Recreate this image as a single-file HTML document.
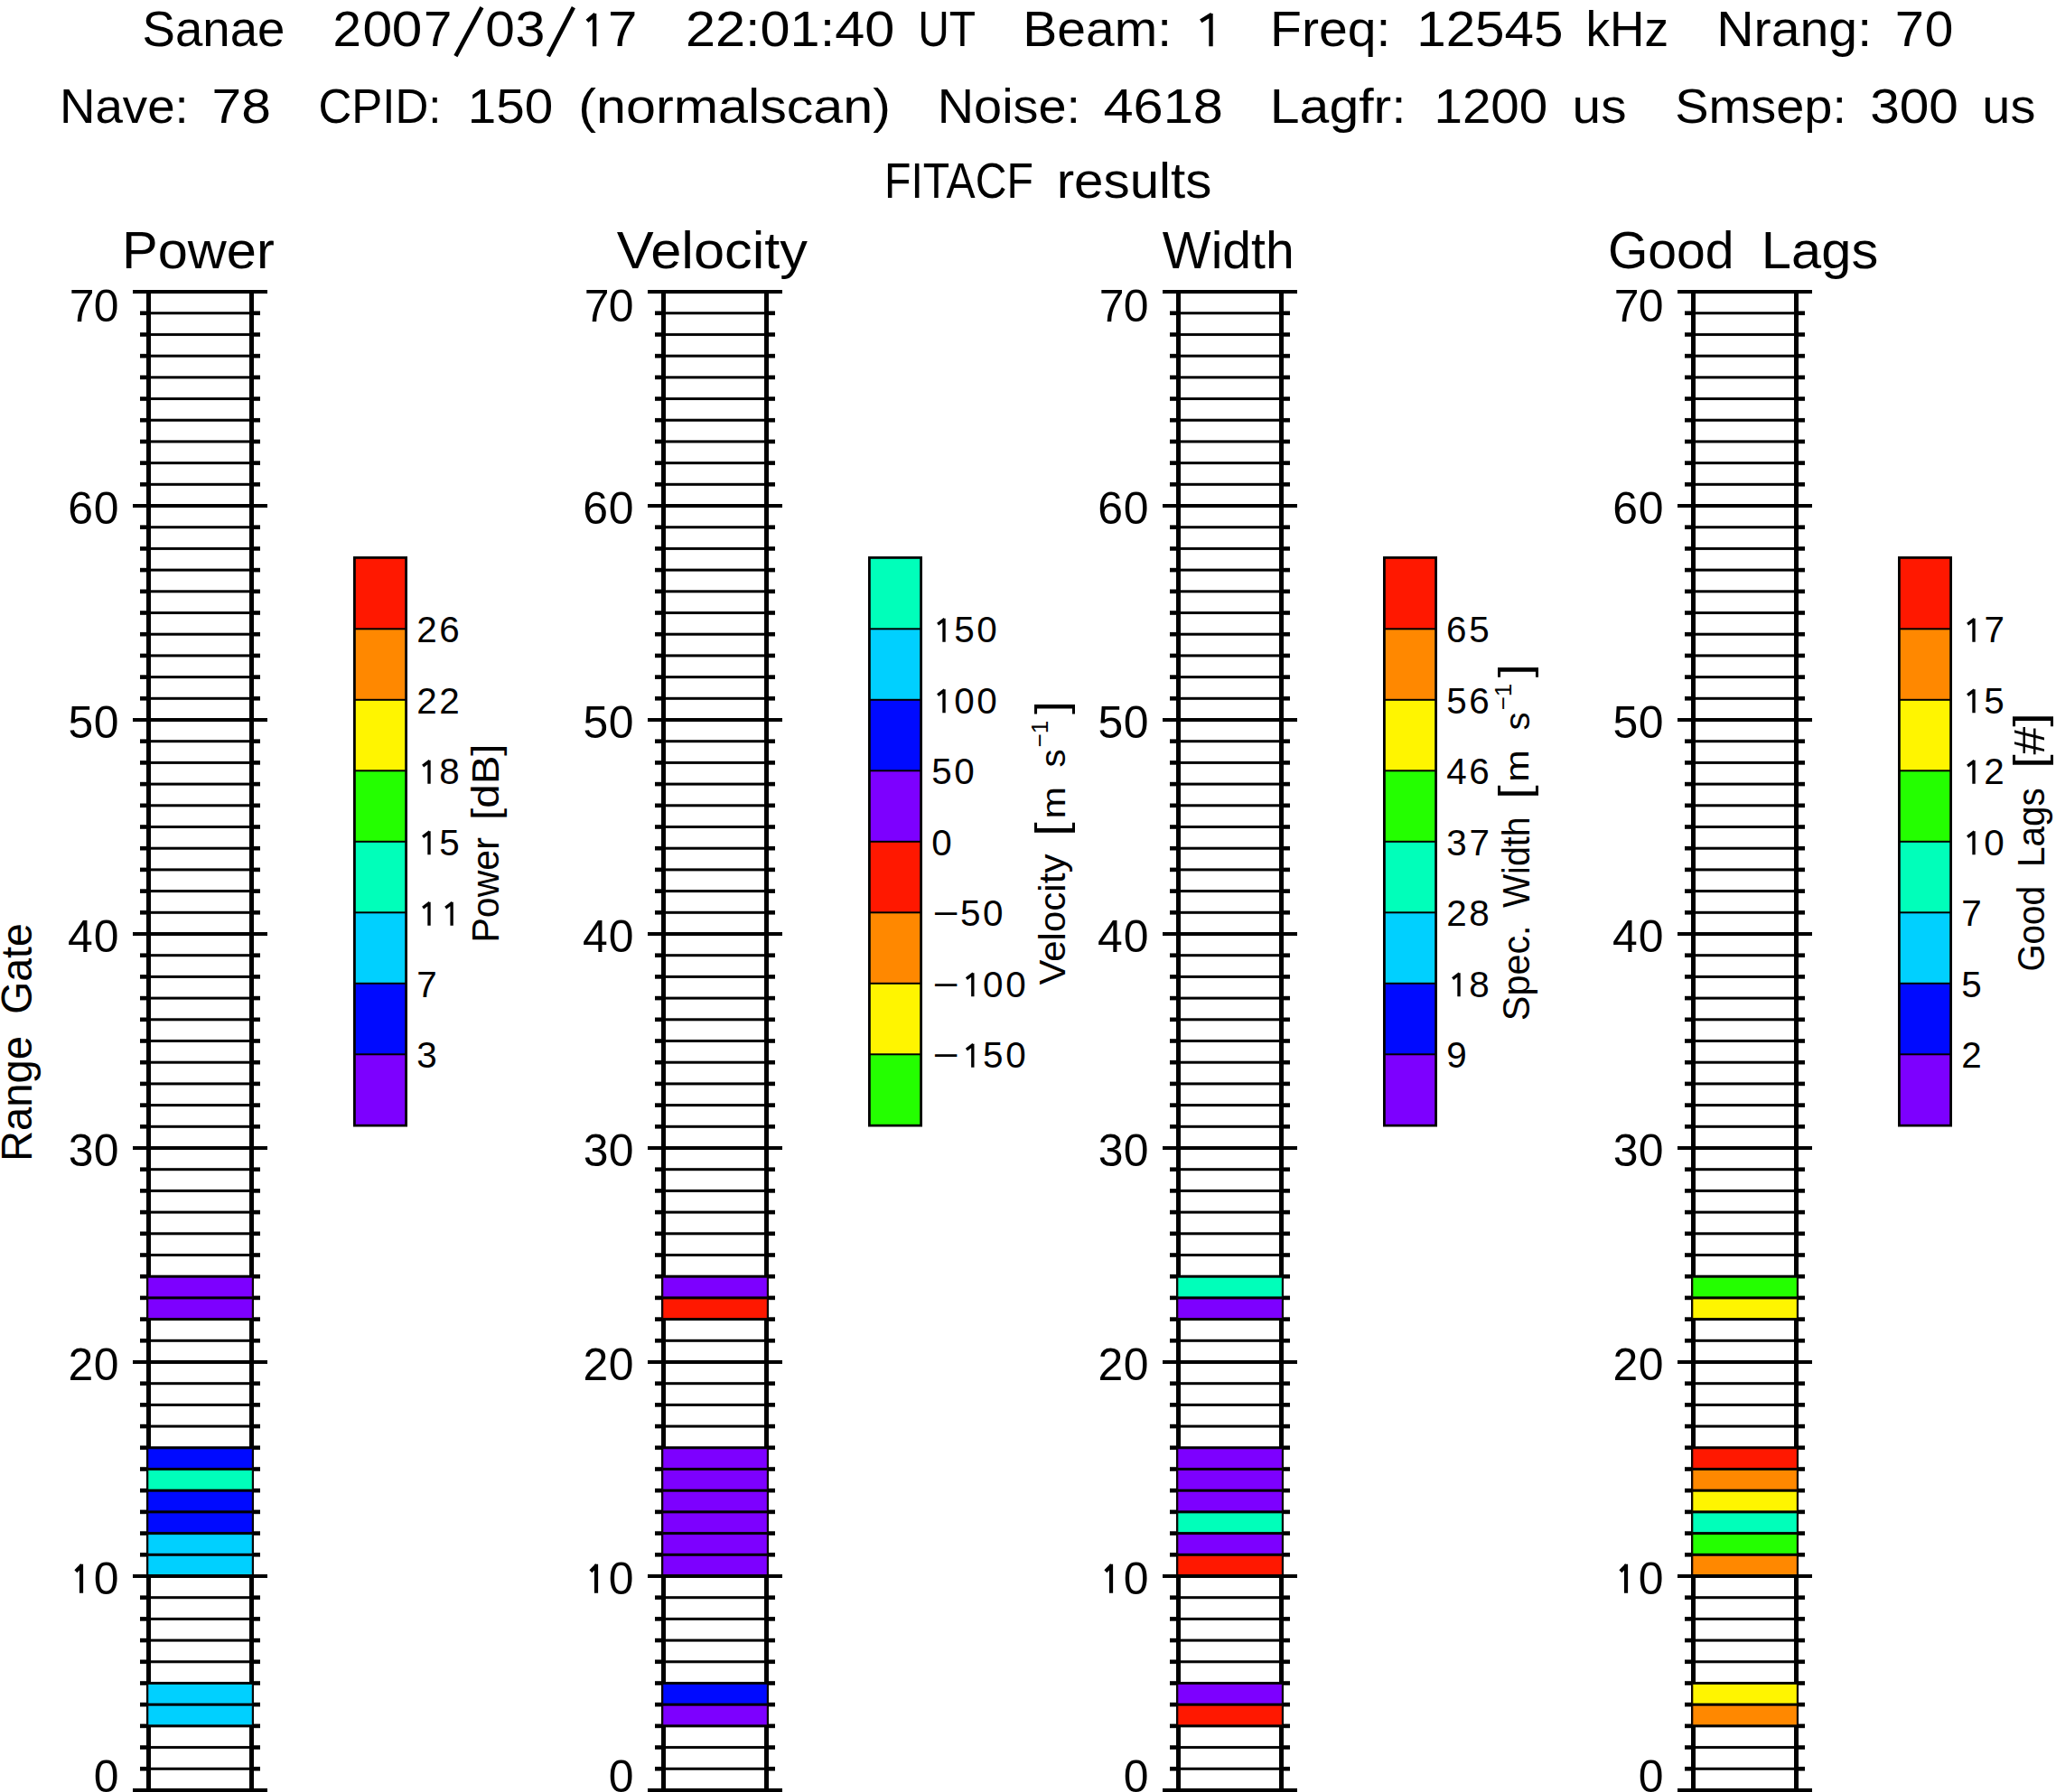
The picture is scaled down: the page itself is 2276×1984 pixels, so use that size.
<!DOCTYPE html>
<html><head><meta charset="utf-8"><style>
html,body{margin:0;padding:0;background:#fff;overflow:hidden;width:2276px;height:1984px;}
svg{display:block;}
text{font-family:"Liberation Sans",sans-serif;fill:#000;}
</style></head><body>
<svg width="2276" height="1984" viewBox="0 0 2276 1984">
<rect width="2276" height="1984" fill="#fff"/>
<rect x="162.00" y="321.00" width="5.00" height="1663.00" fill="#000"/>
<rect x="276.00" y="321.00" width="5.00" height="1663.00" fill="#000"/>
<rect x="155.00" y="1956.00" width="12.00" height="4.60" fill="#000"/>
<rect x="276.00" y="1956.00" width="12.00" height="4.60" fill="#000"/>
<rect x="155.00" y="1932.30" width="12.00" height="4.60" fill="#000"/>
<rect x="276.00" y="1932.30" width="12.00" height="4.60" fill="#000"/>
<rect x="155.00" y="1908.60" width="12.00" height="4.60" fill="#000"/>
<rect x="276.00" y="1908.60" width="12.00" height="4.60" fill="#000"/>
<rect x="155.00" y="1884.90" width="12.00" height="4.60" fill="#000"/>
<rect x="276.00" y="1884.90" width="12.00" height="4.60" fill="#000"/>
<rect x="155.00" y="1861.20" width="12.00" height="4.60" fill="#000"/>
<rect x="276.00" y="1861.20" width="12.00" height="4.60" fill="#000"/>
<rect x="155.00" y="1837.50" width="12.00" height="4.60" fill="#000"/>
<rect x="276.00" y="1837.50" width="12.00" height="4.60" fill="#000"/>
<rect x="155.00" y="1813.80" width="12.00" height="4.60" fill="#000"/>
<rect x="276.00" y="1813.80" width="12.00" height="4.60" fill="#000"/>
<rect x="155.00" y="1790.10" width="12.00" height="4.60" fill="#000"/>
<rect x="276.00" y="1790.10" width="12.00" height="4.60" fill="#000"/>
<rect x="155.00" y="1766.40" width="12.00" height="4.60" fill="#000"/>
<rect x="276.00" y="1766.40" width="12.00" height="4.60" fill="#000"/>
<rect x="155.00" y="1719.00" width="12.00" height="4.60" fill="#000"/>
<rect x="276.00" y="1719.00" width="12.00" height="4.60" fill="#000"/>
<rect x="155.00" y="1695.30" width="12.00" height="4.60" fill="#000"/>
<rect x="276.00" y="1695.30" width="12.00" height="4.60" fill="#000"/>
<rect x="155.00" y="1671.60" width="12.00" height="4.60" fill="#000"/>
<rect x="276.00" y="1671.60" width="12.00" height="4.60" fill="#000"/>
<rect x="155.00" y="1647.90" width="12.00" height="4.60" fill="#000"/>
<rect x="276.00" y="1647.90" width="12.00" height="4.60" fill="#000"/>
<rect x="155.00" y="1624.20" width="12.00" height="4.60" fill="#000"/>
<rect x="276.00" y="1624.20" width="12.00" height="4.60" fill="#000"/>
<rect x="155.00" y="1600.50" width="12.00" height="4.60" fill="#000"/>
<rect x="276.00" y="1600.50" width="12.00" height="4.60" fill="#000"/>
<rect x="155.00" y="1576.80" width="12.00" height="4.60" fill="#000"/>
<rect x="276.00" y="1576.80" width="12.00" height="4.60" fill="#000"/>
<rect x="155.00" y="1553.10" width="12.00" height="4.60" fill="#000"/>
<rect x="276.00" y="1553.10" width="12.00" height="4.60" fill="#000"/>
<rect x="155.00" y="1529.40" width="12.00" height="4.60" fill="#000"/>
<rect x="276.00" y="1529.40" width="12.00" height="4.60" fill="#000"/>
<rect x="155.00" y="1482.00" width="12.00" height="4.60" fill="#000"/>
<rect x="276.00" y="1482.00" width="12.00" height="4.60" fill="#000"/>
<rect x="155.00" y="1458.30" width="12.00" height="4.60" fill="#000"/>
<rect x="276.00" y="1458.30" width="12.00" height="4.60" fill="#000"/>
<rect x="155.00" y="1434.60" width="12.00" height="4.60" fill="#000"/>
<rect x="276.00" y="1434.60" width="12.00" height="4.60" fill="#000"/>
<rect x="155.00" y="1410.90" width="12.00" height="4.60" fill="#000"/>
<rect x="276.00" y="1410.90" width="12.00" height="4.60" fill="#000"/>
<rect x="155.00" y="1387.20" width="12.00" height="4.60" fill="#000"/>
<rect x="276.00" y="1387.20" width="12.00" height="4.60" fill="#000"/>
<rect x="155.00" y="1363.50" width="12.00" height="4.60" fill="#000"/>
<rect x="276.00" y="1363.50" width="12.00" height="4.60" fill="#000"/>
<rect x="155.00" y="1339.80" width="12.00" height="4.60" fill="#000"/>
<rect x="276.00" y="1339.80" width="12.00" height="4.60" fill="#000"/>
<rect x="155.00" y="1316.10" width="12.00" height="4.60" fill="#000"/>
<rect x="276.00" y="1316.10" width="12.00" height="4.60" fill="#000"/>
<rect x="155.00" y="1292.40" width="12.00" height="4.60" fill="#000"/>
<rect x="276.00" y="1292.40" width="12.00" height="4.60" fill="#000"/>
<rect x="155.00" y="1245.00" width="12.00" height="4.60" fill="#000"/>
<rect x="276.00" y="1245.00" width="12.00" height="4.60" fill="#000"/>
<rect x="155.00" y="1221.30" width="12.00" height="4.60" fill="#000"/>
<rect x="276.00" y="1221.30" width="12.00" height="4.60" fill="#000"/>
<rect x="155.00" y="1197.60" width="12.00" height="4.60" fill="#000"/>
<rect x="276.00" y="1197.60" width="12.00" height="4.60" fill="#000"/>
<rect x="155.00" y="1173.90" width="12.00" height="4.60" fill="#000"/>
<rect x="276.00" y="1173.90" width="12.00" height="4.60" fill="#000"/>
<rect x="155.00" y="1150.20" width="12.00" height="4.60" fill="#000"/>
<rect x="276.00" y="1150.20" width="12.00" height="4.60" fill="#000"/>
<rect x="155.00" y="1126.50" width="12.00" height="4.60" fill="#000"/>
<rect x="276.00" y="1126.50" width="12.00" height="4.60" fill="#000"/>
<rect x="155.00" y="1102.80" width="12.00" height="4.60" fill="#000"/>
<rect x="276.00" y="1102.80" width="12.00" height="4.60" fill="#000"/>
<rect x="155.00" y="1079.10" width="12.00" height="4.60" fill="#000"/>
<rect x="276.00" y="1079.10" width="12.00" height="4.60" fill="#000"/>
<rect x="155.00" y="1055.40" width="12.00" height="4.60" fill="#000"/>
<rect x="276.00" y="1055.40" width="12.00" height="4.60" fill="#000"/>
<rect x="155.00" y="1008.00" width="12.00" height="4.60" fill="#000"/>
<rect x="276.00" y="1008.00" width="12.00" height="4.60" fill="#000"/>
<rect x="155.00" y="984.30" width="12.00" height="4.60" fill="#000"/>
<rect x="276.00" y="984.30" width="12.00" height="4.60" fill="#000"/>
<rect x="155.00" y="960.60" width="12.00" height="4.60" fill="#000"/>
<rect x="276.00" y="960.60" width="12.00" height="4.60" fill="#000"/>
<rect x="155.00" y="936.90" width="12.00" height="4.60" fill="#000"/>
<rect x="276.00" y="936.90" width="12.00" height="4.60" fill="#000"/>
<rect x="155.00" y="913.20" width="12.00" height="4.60" fill="#000"/>
<rect x="276.00" y="913.20" width="12.00" height="4.60" fill="#000"/>
<rect x="155.00" y="889.50" width="12.00" height="4.60" fill="#000"/>
<rect x="276.00" y="889.50" width="12.00" height="4.60" fill="#000"/>
<rect x="155.00" y="865.80" width="12.00" height="4.60" fill="#000"/>
<rect x="276.00" y="865.80" width="12.00" height="4.60" fill="#000"/>
<rect x="155.00" y="842.10" width="12.00" height="4.60" fill="#000"/>
<rect x="276.00" y="842.10" width="12.00" height="4.60" fill="#000"/>
<rect x="155.00" y="818.40" width="12.00" height="4.60" fill="#000"/>
<rect x="276.00" y="818.40" width="12.00" height="4.60" fill="#000"/>
<rect x="155.00" y="771.00" width="12.00" height="4.60" fill="#000"/>
<rect x="276.00" y="771.00" width="12.00" height="4.60" fill="#000"/>
<rect x="155.00" y="747.30" width="12.00" height="4.60" fill="#000"/>
<rect x="276.00" y="747.30" width="12.00" height="4.60" fill="#000"/>
<rect x="155.00" y="723.60" width="12.00" height="4.60" fill="#000"/>
<rect x="276.00" y="723.60" width="12.00" height="4.60" fill="#000"/>
<rect x="155.00" y="699.90" width="12.00" height="4.60" fill="#000"/>
<rect x="276.00" y="699.90" width="12.00" height="4.60" fill="#000"/>
<rect x="155.00" y="676.20" width="12.00" height="4.60" fill="#000"/>
<rect x="276.00" y="676.20" width="12.00" height="4.60" fill="#000"/>
<rect x="155.00" y="652.50" width="12.00" height="4.60" fill="#000"/>
<rect x="276.00" y="652.50" width="12.00" height="4.60" fill="#000"/>
<rect x="155.00" y="628.80" width="12.00" height="4.60" fill="#000"/>
<rect x="276.00" y="628.80" width="12.00" height="4.60" fill="#000"/>
<rect x="155.00" y="605.10" width="12.00" height="4.60" fill="#000"/>
<rect x="276.00" y="605.10" width="12.00" height="4.60" fill="#000"/>
<rect x="155.00" y="581.40" width="12.00" height="4.60" fill="#000"/>
<rect x="276.00" y="581.40" width="12.00" height="4.60" fill="#000"/>
<rect x="155.00" y="534.00" width="12.00" height="4.60" fill="#000"/>
<rect x="276.00" y="534.00" width="12.00" height="4.60" fill="#000"/>
<rect x="155.00" y="510.30" width="12.00" height="4.60" fill="#000"/>
<rect x="276.00" y="510.30" width="12.00" height="4.60" fill="#000"/>
<rect x="155.00" y="486.60" width="12.00" height="4.60" fill="#000"/>
<rect x="276.00" y="486.60" width="12.00" height="4.60" fill="#000"/>
<rect x="155.00" y="462.90" width="12.00" height="4.60" fill="#000"/>
<rect x="276.00" y="462.90" width="12.00" height="4.60" fill="#000"/>
<rect x="155.00" y="439.20" width="12.00" height="4.60" fill="#000"/>
<rect x="276.00" y="439.20" width="12.00" height="4.60" fill="#000"/>
<rect x="155.00" y="415.50" width="12.00" height="4.60" fill="#000"/>
<rect x="276.00" y="415.50" width="12.00" height="4.60" fill="#000"/>
<rect x="155.00" y="391.80" width="12.00" height="4.60" fill="#000"/>
<rect x="276.00" y="391.80" width="12.00" height="4.60" fill="#000"/>
<rect x="155.00" y="368.10" width="12.00" height="4.60" fill="#000"/>
<rect x="276.00" y="368.10" width="12.00" height="4.60" fill="#000"/>
<rect x="155.00" y="344.40" width="12.00" height="4.60" fill="#000"/>
<rect x="276.00" y="344.40" width="12.00" height="4.60" fill="#000"/>
<rect x="163.80" y="1413.20" width="115.5" height="23.70" fill="#7d00ff" stroke="#100" stroke-width="1"/>
<rect x="163.80" y="1436.90" width="115.5" height="23.70" fill="#7d00ff" stroke="#100" stroke-width="1"/>
<rect x="163.80" y="1602.80" width="115.5" height="23.70" fill="#000aff" stroke="#100" stroke-width="1"/>
<rect x="163.80" y="1626.50" width="115.5" height="23.70" fill="#00ffba" stroke="#100" stroke-width="1"/>
<rect x="163.80" y="1650.20" width="115.5" height="23.70" fill="#000aff" stroke="#100" stroke-width="1"/>
<rect x="163.80" y="1673.90" width="115.5" height="23.70" fill="#000aff" stroke="#100" stroke-width="1"/>
<rect x="163.80" y="1697.60" width="115.5" height="23.70" fill="#00d0ff" stroke="#100" stroke-width="1"/>
<rect x="163.80" y="1721.30" width="115.5" height="23.70" fill="#00d0ff" stroke="#100" stroke-width="1"/>
<rect x="163.80" y="1863.50" width="115.5" height="23.70" fill="#00d0ff" stroke="#100" stroke-width="1"/>
<rect x="163.80" y="1887.20" width="115.5" height="23.70" fill="#00d0ff" stroke="#100" stroke-width="1"/>
<rect x="147.00" y="1980.00" width="149.00" height="4.00" fill="#000"/>
<rect x="163.80" y="1956.80" width="115.50" height="3.00" fill="#000"/>
<rect x="163.80" y="1933.10" width="115.50" height="3.00" fill="#000"/>
<rect x="163.80" y="1909.40" width="115.50" height="3.00" fill="#000"/>
<rect x="163.80" y="1885.70" width="115.50" height="3.00" fill="#000"/>
<rect x="163.80" y="1862.00" width="115.50" height="3.00" fill="#000"/>
<rect x="163.80" y="1838.30" width="115.50" height="3.00" fill="#000"/>
<rect x="163.80" y="1814.60" width="115.50" height="3.00" fill="#000"/>
<rect x="163.80" y="1790.90" width="115.50" height="3.00" fill="#000"/>
<rect x="163.80" y="1767.20" width="115.50" height="3.00" fill="#000"/>
<rect x="147.00" y="1743.00" width="149.00" height="4.00" fill="#000"/>
<rect x="163.80" y="1719.80" width="115.50" height="3.00" fill="#000"/>
<rect x="163.80" y="1696.10" width="115.50" height="3.00" fill="#000"/>
<rect x="163.80" y="1672.40" width="115.50" height="3.00" fill="#000"/>
<rect x="163.80" y="1648.70" width="115.50" height="3.00" fill="#000"/>
<rect x="163.80" y="1625.00" width="115.50" height="3.00" fill="#000"/>
<rect x="163.80" y="1601.30" width="115.50" height="3.00" fill="#000"/>
<rect x="163.80" y="1577.60" width="115.50" height="3.00" fill="#000"/>
<rect x="163.80" y="1553.90" width="115.50" height="3.00" fill="#000"/>
<rect x="163.80" y="1530.20" width="115.50" height="3.00" fill="#000"/>
<rect x="147.00" y="1506.00" width="149.00" height="4.00" fill="#000"/>
<rect x="163.80" y="1482.80" width="115.50" height="3.00" fill="#000"/>
<rect x="163.80" y="1459.10" width="115.50" height="3.00" fill="#000"/>
<rect x="163.80" y="1435.40" width="115.50" height="3.00" fill="#000"/>
<rect x="163.80" y="1411.70" width="115.50" height="3.00" fill="#000"/>
<rect x="163.80" y="1388.00" width="115.50" height="3.00" fill="#000"/>
<rect x="163.80" y="1364.30" width="115.50" height="3.00" fill="#000"/>
<rect x="163.80" y="1340.60" width="115.50" height="3.00" fill="#000"/>
<rect x="163.80" y="1316.90" width="115.50" height="3.00" fill="#000"/>
<rect x="163.80" y="1293.20" width="115.50" height="3.00" fill="#000"/>
<rect x="147.00" y="1269.00" width="149.00" height="4.00" fill="#000"/>
<rect x="163.80" y="1245.80" width="115.50" height="3.00" fill="#000"/>
<rect x="163.80" y="1222.10" width="115.50" height="3.00" fill="#000"/>
<rect x="163.80" y="1198.40" width="115.50" height="3.00" fill="#000"/>
<rect x="163.80" y="1174.70" width="115.50" height="3.00" fill="#000"/>
<rect x="163.80" y="1151.00" width="115.50" height="3.00" fill="#000"/>
<rect x="163.80" y="1127.30" width="115.50" height="3.00" fill="#000"/>
<rect x="163.80" y="1103.60" width="115.50" height="3.00" fill="#000"/>
<rect x="163.80" y="1079.90" width="115.50" height="3.00" fill="#000"/>
<rect x="163.80" y="1056.20" width="115.50" height="3.00" fill="#000"/>
<rect x="147.00" y="1032.00" width="149.00" height="4.00" fill="#000"/>
<rect x="163.80" y="1008.80" width="115.50" height="3.00" fill="#000"/>
<rect x="163.80" y="985.10" width="115.50" height="3.00" fill="#000"/>
<rect x="163.80" y="961.40" width="115.50" height="3.00" fill="#000"/>
<rect x="163.80" y="937.70" width="115.50" height="3.00" fill="#000"/>
<rect x="163.80" y="914.00" width="115.50" height="3.00" fill="#000"/>
<rect x="163.80" y="890.30" width="115.50" height="3.00" fill="#000"/>
<rect x="163.80" y="866.60" width="115.50" height="3.00" fill="#000"/>
<rect x="163.80" y="842.90" width="115.50" height="3.00" fill="#000"/>
<rect x="163.80" y="819.20" width="115.50" height="3.00" fill="#000"/>
<rect x="147.00" y="795.00" width="149.00" height="4.00" fill="#000"/>
<rect x="163.80" y="771.80" width="115.50" height="3.00" fill="#000"/>
<rect x="163.80" y="748.10" width="115.50" height="3.00" fill="#000"/>
<rect x="163.80" y="724.40" width="115.50" height="3.00" fill="#000"/>
<rect x="163.80" y="700.70" width="115.50" height="3.00" fill="#000"/>
<rect x="163.80" y="677.00" width="115.50" height="3.00" fill="#000"/>
<rect x="163.80" y="653.30" width="115.50" height="3.00" fill="#000"/>
<rect x="163.80" y="629.60" width="115.50" height="3.00" fill="#000"/>
<rect x="163.80" y="605.90" width="115.50" height="3.00" fill="#000"/>
<rect x="163.80" y="582.20" width="115.50" height="3.00" fill="#000"/>
<rect x="147.00" y="558.00" width="149.00" height="4.00" fill="#000"/>
<rect x="163.80" y="534.80" width="115.50" height="3.00" fill="#000"/>
<rect x="163.80" y="511.10" width="115.50" height="3.00" fill="#000"/>
<rect x="163.80" y="487.40" width="115.50" height="3.00" fill="#000"/>
<rect x="163.80" y="463.70" width="115.50" height="3.00" fill="#000"/>
<rect x="163.80" y="440.00" width="115.50" height="3.00" fill="#000"/>
<rect x="163.80" y="416.30" width="115.50" height="3.00" fill="#000"/>
<rect x="163.80" y="392.60" width="115.50" height="3.00" fill="#000"/>
<rect x="163.80" y="368.90" width="115.50" height="3.00" fill="#000"/>
<rect x="163.80" y="345.20" width="115.50" height="3.00" fill="#000"/>
<rect x="147.00" y="321.00" width="149.00" height="4.00" fill="#000"/>
<rect x="391.00" y="616.00" width="60.00" height="631.50" fill="#000"/>
<rect x="393.80" y="618.80" width="54.40" height="76.50" fill="#ff1800"/>
<rect x="393.80" y="697.30" width="54.40" height="76.50" fill="#ff8800"/>
<rect x="393.80" y="775.80" width="54.40" height="76.50" fill="#fff500"/>
<rect x="393.80" y="854.30" width="54.40" height="76.50" fill="#24ff00"/>
<rect x="393.80" y="932.80" width="54.40" height="76.50" fill="#00ffba"/>
<rect x="393.80" y="1011.30" width="54.40" height="76.50" fill="#00d0ff"/>
<rect x="393.80" y="1089.80" width="54.40" height="76.50" fill="#000aff"/>
<rect x="393.80" y="1168.30" width="54.40" height="76.50" fill="#7d00ff"/>
<rect x="732.00" y="321.00" width="5.00" height="1663.00" fill="#000"/>
<rect x="846.00" y="321.00" width="5.00" height="1663.00" fill="#000"/>
<rect x="725.00" y="1956.00" width="12.00" height="4.60" fill="#000"/>
<rect x="846.00" y="1956.00" width="12.00" height="4.60" fill="#000"/>
<rect x="725.00" y="1932.30" width="12.00" height="4.60" fill="#000"/>
<rect x="846.00" y="1932.30" width="12.00" height="4.60" fill="#000"/>
<rect x="725.00" y="1908.60" width="12.00" height="4.60" fill="#000"/>
<rect x="846.00" y="1908.60" width="12.00" height="4.60" fill="#000"/>
<rect x="725.00" y="1884.90" width="12.00" height="4.60" fill="#000"/>
<rect x="846.00" y="1884.90" width="12.00" height="4.60" fill="#000"/>
<rect x="725.00" y="1861.20" width="12.00" height="4.60" fill="#000"/>
<rect x="846.00" y="1861.20" width="12.00" height="4.60" fill="#000"/>
<rect x="725.00" y="1837.50" width="12.00" height="4.60" fill="#000"/>
<rect x="846.00" y="1837.50" width="12.00" height="4.60" fill="#000"/>
<rect x="725.00" y="1813.80" width="12.00" height="4.60" fill="#000"/>
<rect x="846.00" y="1813.80" width="12.00" height="4.60" fill="#000"/>
<rect x="725.00" y="1790.10" width="12.00" height="4.60" fill="#000"/>
<rect x="846.00" y="1790.10" width="12.00" height="4.60" fill="#000"/>
<rect x="725.00" y="1766.40" width="12.00" height="4.60" fill="#000"/>
<rect x="846.00" y="1766.40" width="12.00" height="4.60" fill="#000"/>
<rect x="725.00" y="1719.00" width="12.00" height="4.60" fill="#000"/>
<rect x="846.00" y="1719.00" width="12.00" height="4.60" fill="#000"/>
<rect x="725.00" y="1695.30" width="12.00" height="4.60" fill="#000"/>
<rect x="846.00" y="1695.30" width="12.00" height="4.60" fill="#000"/>
<rect x="725.00" y="1671.60" width="12.00" height="4.60" fill="#000"/>
<rect x="846.00" y="1671.60" width="12.00" height="4.60" fill="#000"/>
<rect x="725.00" y="1647.90" width="12.00" height="4.60" fill="#000"/>
<rect x="846.00" y="1647.90" width="12.00" height="4.60" fill="#000"/>
<rect x="725.00" y="1624.20" width="12.00" height="4.60" fill="#000"/>
<rect x="846.00" y="1624.20" width="12.00" height="4.60" fill="#000"/>
<rect x="725.00" y="1600.50" width="12.00" height="4.60" fill="#000"/>
<rect x="846.00" y="1600.50" width="12.00" height="4.60" fill="#000"/>
<rect x="725.00" y="1576.80" width="12.00" height="4.60" fill="#000"/>
<rect x="846.00" y="1576.80" width="12.00" height="4.60" fill="#000"/>
<rect x="725.00" y="1553.10" width="12.00" height="4.60" fill="#000"/>
<rect x="846.00" y="1553.10" width="12.00" height="4.60" fill="#000"/>
<rect x="725.00" y="1529.40" width="12.00" height="4.60" fill="#000"/>
<rect x="846.00" y="1529.40" width="12.00" height="4.60" fill="#000"/>
<rect x="725.00" y="1482.00" width="12.00" height="4.60" fill="#000"/>
<rect x="846.00" y="1482.00" width="12.00" height="4.60" fill="#000"/>
<rect x="725.00" y="1458.30" width="12.00" height="4.60" fill="#000"/>
<rect x="846.00" y="1458.30" width="12.00" height="4.60" fill="#000"/>
<rect x="725.00" y="1434.60" width="12.00" height="4.60" fill="#000"/>
<rect x="846.00" y="1434.60" width="12.00" height="4.60" fill="#000"/>
<rect x="725.00" y="1410.90" width="12.00" height="4.60" fill="#000"/>
<rect x="846.00" y="1410.90" width="12.00" height="4.60" fill="#000"/>
<rect x="725.00" y="1387.20" width="12.00" height="4.60" fill="#000"/>
<rect x="846.00" y="1387.20" width="12.00" height="4.60" fill="#000"/>
<rect x="725.00" y="1363.50" width="12.00" height="4.60" fill="#000"/>
<rect x="846.00" y="1363.50" width="12.00" height="4.60" fill="#000"/>
<rect x="725.00" y="1339.80" width="12.00" height="4.60" fill="#000"/>
<rect x="846.00" y="1339.80" width="12.00" height="4.60" fill="#000"/>
<rect x="725.00" y="1316.10" width="12.00" height="4.60" fill="#000"/>
<rect x="846.00" y="1316.10" width="12.00" height="4.60" fill="#000"/>
<rect x="725.00" y="1292.40" width="12.00" height="4.60" fill="#000"/>
<rect x="846.00" y="1292.40" width="12.00" height="4.60" fill="#000"/>
<rect x="725.00" y="1245.00" width="12.00" height="4.60" fill="#000"/>
<rect x="846.00" y="1245.00" width="12.00" height="4.60" fill="#000"/>
<rect x="725.00" y="1221.30" width="12.00" height="4.60" fill="#000"/>
<rect x="846.00" y="1221.30" width="12.00" height="4.60" fill="#000"/>
<rect x="725.00" y="1197.60" width="12.00" height="4.60" fill="#000"/>
<rect x="846.00" y="1197.60" width="12.00" height="4.60" fill="#000"/>
<rect x="725.00" y="1173.90" width="12.00" height="4.60" fill="#000"/>
<rect x="846.00" y="1173.90" width="12.00" height="4.60" fill="#000"/>
<rect x="725.00" y="1150.20" width="12.00" height="4.60" fill="#000"/>
<rect x="846.00" y="1150.20" width="12.00" height="4.60" fill="#000"/>
<rect x="725.00" y="1126.50" width="12.00" height="4.60" fill="#000"/>
<rect x="846.00" y="1126.50" width="12.00" height="4.60" fill="#000"/>
<rect x="725.00" y="1102.80" width="12.00" height="4.60" fill="#000"/>
<rect x="846.00" y="1102.80" width="12.00" height="4.60" fill="#000"/>
<rect x="725.00" y="1079.10" width="12.00" height="4.60" fill="#000"/>
<rect x="846.00" y="1079.10" width="12.00" height="4.60" fill="#000"/>
<rect x="725.00" y="1055.40" width="12.00" height="4.60" fill="#000"/>
<rect x="846.00" y="1055.40" width="12.00" height="4.60" fill="#000"/>
<rect x="725.00" y="1008.00" width="12.00" height="4.60" fill="#000"/>
<rect x="846.00" y="1008.00" width="12.00" height="4.60" fill="#000"/>
<rect x="725.00" y="984.30" width="12.00" height="4.60" fill="#000"/>
<rect x="846.00" y="984.30" width="12.00" height="4.60" fill="#000"/>
<rect x="725.00" y="960.60" width="12.00" height="4.60" fill="#000"/>
<rect x="846.00" y="960.60" width="12.00" height="4.60" fill="#000"/>
<rect x="725.00" y="936.90" width="12.00" height="4.60" fill="#000"/>
<rect x="846.00" y="936.90" width="12.00" height="4.60" fill="#000"/>
<rect x="725.00" y="913.20" width="12.00" height="4.60" fill="#000"/>
<rect x="846.00" y="913.20" width="12.00" height="4.60" fill="#000"/>
<rect x="725.00" y="889.50" width="12.00" height="4.60" fill="#000"/>
<rect x="846.00" y="889.50" width="12.00" height="4.60" fill="#000"/>
<rect x="725.00" y="865.80" width="12.00" height="4.60" fill="#000"/>
<rect x="846.00" y="865.80" width="12.00" height="4.60" fill="#000"/>
<rect x="725.00" y="842.10" width="12.00" height="4.60" fill="#000"/>
<rect x="846.00" y="842.10" width="12.00" height="4.60" fill="#000"/>
<rect x="725.00" y="818.40" width="12.00" height="4.60" fill="#000"/>
<rect x="846.00" y="818.40" width="12.00" height="4.60" fill="#000"/>
<rect x="725.00" y="771.00" width="12.00" height="4.60" fill="#000"/>
<rect x="846.00" y="771.00" width="12.00" height="4.60" fill="#000"/>
<rect x="725.00" y="747.30" width="12.00" height="4.60" fill="#000"/>
<rect x="846.00" y="747.30" width="12.00" height="4.60" fill="#000"/>
<rect x="725.00" y="723.60" width="12.00" height="4.60" fill="#000"/>
<rect x="846.00" y="723.60" width="12.00" height="4.60" fill="#000"/>
<rect x="725.00" y="699.90" width="12.00" height="4.60" fill="#000"/>
<rect x="846.00" y="699.90" width="12.00" height="4.60" fill="#000"/>
<rect x="725.00" y="676.20" width="12.00" height="4.60" fill="#000"/>
<rect x="846.00" y="676.20" width="12.00" height="4.60" fill="#000"/>
<rect x="725.00" y="652.50" width="12.00" height="4.60" fill="#000"/>
<rect x="846.00" y="652.50" width="12.00" height="4.60" fill="#000"/>
<rect x="725.00" y="628.80" width="12.00" height="4.60" fill="#000"/>
<rect x="846.00" y="628.80" width="12.00" height="4.60" fill="#000"/>
<rect x="725.00" y="605.10" width="12.00" height="4.60" fill="#000"/>
<rect x="846.00" y="605.10" width="12.00" height="4.60" fill="#000"/>
<rect x="725.00" y="581.40" width="12.00" height="4.60" fill="#000"/>
<rect x="846.00" y="581.40" width="12.00" height="4.60" fill="#000"/>
<rect x="725.00" y="534.00" width="12.00" height="4.60" fill="#000"/>
<rect x="846.00" y="534.00" width="12.00" height="4.60" fill="#000"/>
<rect x="725.00" y="510.30" width="12.00" height="4.60" fill="#000"/>
<rect x="846.00" y="510.30" width="12.00" height="4.60" fill="#000"/>
<rect x="725.00" y="486.60" width="12.00" height="4.60" fill="#000"/>
<rect x="846.00" y="486.60" width="12.00" height="4.60" fill="#000"/>
<rect x="725.00" y="462.90" width="12.00" height="4.60" fill="#000"/>
<rect x="846.00" y="462.90" width="12.00" height="4.60" fill="#000"/>
<rect x="725.00" y="439.20" width="12.00" height="4.60" fill="#000"/>
<rect x="846.00" y="439.20" width="12.00" height="4.60" fill="#000"/>
<rect x="725.00" y="415.50" width="12.00" height="4.60" fill="#000"/>
<rect x="846.00" y="415.50" width="12.00" height="4.60" fill="#000"/>
<rect x="725.00" y="391.80" width="12.00" height="4.60" fill="#000"/>
<rect x="846.00" y="391.80" width="12.00" height="4.60" fill="#000"/>
<rect x="725.00" y="368.10" width="12.00" height="4.60" fill="#000"/>
<rect x="846.00" y="368.10" width="12.00" height="4.60" fill="#000"/>
<rect x="725.00" y="344.40" width="12.00" height="4.60" fill="#000"/>
<rect x="846.00" y="344.40" width="12.00" height="4.60" fill="#000"/>
<rect x="733.80" y="1413.20" width="115.5" height="23.70" fill="#7d00ff" stroke="#100" stroke-width="1"/>
<rect x="733.80" y="1436.90" width="115.5" height="23.70" fill="#ff1800" stroke="#100" stroke-width="1"/>
<rect x="733.80" y="1602.80" width="115.5" height="23.70" fill="#7d00ff" stroke="#100" stroke-width="1"/>
<rect x="733.80" y="1626.50" width="115.5" height="23.70" fill="#7d00ff" stroke="#100" stroke-width="1"/>
<rect x="733.80" y="1650.20" width="115.5" height="23.70" fill="#7d00ff" stroke="#100" stroke-width="1"/>
<rect x="733.80" y="1673.90" width="115.5" height="23.70" fill="#7d00ff" stroke="#100" stroke-width="1"/>
<rect x="733.80" y="1697.60" width="115.5" height="23.70" fill="#7d00ff" stroke="#100" stroke-width="1"/>
<rect x="733.80" y="1721.30" width="115.5" height="23.70" fill="#7d00ff" stroke="#100" stroke-width="1"/>
<rect x="733.80" y="1863.50" width="115.5" height="23.70" fill="#000aff" stroke="#100" stroke-width="1"/>
<rect x="733.80" y="1887.20" width="115.5" height="23.70" fill="#7d00ff" stroke="#100" stroke-width="1"/>
<rect x="717.00" y="1980.00" width="149.00" height="4.00" fill="#000"/>
<rect x="733.80" y="1956.80" width="115.50" height="3.00" fill="#000"/>
<rect x="733.80" y="1933.10" width="115.50" height="3.00" fill="#000"/>
<rect x="733.80" y="1909.40" width="115.50" height="3.00" fill="#000"/>
<rect x="733.80" y="1885.70" width="115.50" height="3.00" fill="#000"/>
<rect x="733.80" y="1862.00" width="115.50" height="3.00" fill="#000"/>
<rect x="733.80" y="1838.30" width="115.50" height="3.00" fill="#000"/>
<rect x="733.80" y="1814.60" width="115.50" height="3.00" fill="#000"/>
<rect x="733.80" y="1790.90" width="115.50" height="3.00" fill="#000"/>
<rect x="733.80" y="1767.20" width="115.50" height="3.00" fill="#000"/>
<rect x="717.00" y="1743.00" width="149.00" height="4.00" fill="#000"/>
<rect x="733.80" y="1719.80" width="115.50" height="3.00" fill="#000"/>
<rect x="733.80" y="1696.10" width="115.50" height="3.00" fill="#000"/>
<rect x="733.80" y="1672.40" width="115.50" height="3.00" fill="#000"/>
<rect x="733.80" y="1648.70" width="115.50" height="3.00" fill="#000"/>
<rect x="733.80" y="1625.00" width="115.50" height="3.00" fill="#000"/>
<rect x="733.80" y="1601.30" width="115.50" height="3.00" fill="#000"/>
<rect x="733.80" y="1577.60" width="115.50" height="3.00" fill="#000"/>
<rect x="733.80" y="1553.90" width="115.50" height="3.00" fill="#000"/>
<rect x="733.80" y="1530.20" width="115.50" height="3.00" fill="#000"/>
<rect x="717.00" y="1506.00" width="149.00" height="4.00" fill="#000"/>
<rect x="733.80" y="1482.80" width="115.50" height="3.00" fill="#000"/>
<rect x="733.80" y="1459.10" width="115.50" height="3.00" fill="#000"/>
<rect x="733.80" y="1435.40" width="115.50" height="3.00" fill="#000"/>
<rect x="733.80" y="1411.70" width="115.50" height="3.00" fill="#000"/>
<rect x="733.80" y="1388.00" width="115.50" height="3.00" fill="#000"/>
<rect x="733.80" y="1364.30" width="115.50" height="3.00" fill="#000"/>
<rect x="733.80" y="1340.60" width="115.50" height="3.00" fill="#000"/>
<rect x="733.80" y="1316.90" width="115.50" height="3.00" fill="#000"/>
<rect x="733.80" y="1293.20" width="115.50" height="3.00" fill="#000"/>
<rect x="717.00" y="1269.00" width="149.00" height="4.00" fill="#000"/>
<rect x="733.80" y="1245.80" width="115.50" height="3.00" fill="#000"/>
<rect x="733.80" y="1222.10" width="115.50" height="3.00" fill="#000"/>
<rect x="733.80" y="1198.40" width="115.50" height="3.00" fill="#000"/>
<rect x="733.80" y="1174.70" width="115.50" height="3.00" fill="#000"/>
<rect x="733.80" y="1151.00" width="115.50" height="3.00" fill="#000"/>
<rect x="733.80" y="1127.30" width="115.50" height="3.00" fill="#000"/>
<rect x="733.80" y="1103.60" width="115.50" height="3.00" fill="#000"/>
<rect x="733.80" y="1079.90" width="115.50" height="3.00" fill="#000"/>
<rect x="733.80" y="1056.20" width="115.50" height="3.00" fill="#000"/>
<rect x="717.00" y="1032.00" width="149.00" height="4.00" fill="#000"/>
<rect x="733.80" y="1008.80" width="115.50" height="3.00" fill="#000"/>
<rect x="733.80" y="985.10" width="115.50" height="3.00" fill="#000"/>
<rect x="733.80" y="961.40" width="115.50" height="3.00" fill="#000"/>
<rect x="733.80" y="937.70" width="115.50" height="3.00" fill="#000"/>
<rect x="733.80" y="914.00" width="115.50" height="3.00" fill="#000"/>
<rect x="733.80" y="890.30" width="115.50" height="3.00" fill="#000"/>
<rect x="733.80" y="866.60" width="115.50" height="3.00" fill="#000"/>
<rect x="733.80" y="842.90" width="115.50" height="3.00" fill="#000"/>
<rect x="733.80" y="819.20" width="115.50" height="3.00" fill="#000"/>
<rect x="717.00" y="795.00" width="149.00" height="4.00" fill="#000"/>
<rect x="733.80" y="771.80" width="115.50" height="3.00" fill="#000"/>
<rect x="733.80" y="748.10" width="115.50" height="3.00" fill="#000"/>
<rect x="733.80" y="724.40" width="115.50" height="3.00" fill="#000"/>
<rect x="733.80" y="700.70" width="115.50" height="3.00" fill="#000"/>
<rect x="733.80" y="677.00" width="115.50" height="3.00" fill="#000"/>
<rect x="733.80" y="653.30" width="115.50" height="3.00" fill="#000"/>
<rect x="733.80" y="629.60" width="115.50" height="3.00" fill="#000"/>
<rect x="733.80" y="605.90" width="115.50" height="3.00" fill="#000"/>
<rect x="733.80" y="582.20" width="115.50" height="3.00" fill="#000"/>
<rect x="717.00" y="558.00" width="149.00" height="4.00" fill="#000"/>
<rect x="733.80" y="534.80" width="115.50" height="3.00" fill="#000"/>
<rect x="733.80" y="511.10" width="115.50" height="3.00" fill="#000"/>
<rect x="733.80" y="487.40" width="115.50" height="3.00" fill="#000"/>
<rect x="733.80" y="463.70" width="115.50" height="3.00" fill="#000"/>
<rect x="733.80" y="440.00" width="115.50" height="3.00" fill="#000"/>
<rect x="733.80" y="416.30" width="115.50" height="3.00" fill="#000"/>
<rect x="733.80" y="392.60" width="115.50" height="3.00" fill="#000"/>
<rect x="733.80" y="368.90" width="115.50" height="3.00" fill="#000"/>
<rect x="733.80" y="345.20" width="115.50" height="3.00" fill="#000"/>
<rect x="717.00" y="321.00" width="149.00" height="4.00" fill="#000"/>
<rect x="961.00" y="616.00" width="60.00" height="631.50" fill="#000"/>
<rect x="963.80" y="618.80" width="54.40" height="76.50" fill="#00ffba"/>
<rect x="963.80" y="697.30" width="54.40" height="76.50" fill="#00d0ff"/>
<rect x="963.80" y="775.80" width="54.40" height="76.50" fill="#000aff"/>
<rect x="963.80" y="854.30" width="54.40" height="76.50" fill="#7d00ff"/>
<rect x="963.80" y="932.80" width="54.40" height="76.50" fill="#ff1800"/>
<rect x="963.80" y="1011.30" width="54.40" height="76.50" fill="#ff8800"/>
<rect x="963.80" y="1089.80" width="54.40" height="76.50" fill="#fff500"/>
<rect x="963.80" y="1168.30" width="54.40" height="76.50" fill="#24ff00"/>
<rect x="1302.00" y="321.00" width="5.00" height="1663.00" fill="#000"/>
<rect x="1416.00" y="321.00" width="5.00" height="1663.00" fill="#000"/>
<rect x="1295.00" y="1956.00" width="12.00" height="4.60" fill="#000"/>
<rect x="1416.00" y="1956.00" width="12.00" height="4.60" fill="#000"/>
<rect x="1295.00" y="1932.30" width="12.00" height="4.60" fill="#000"/>
<rect x="1416.00" y="1932.30" width="12.00" height="4.60" fill="#000"/>
<rect x="1295.00" y="1908.60" width="12.00" height="4.60" fill="#000"/>
<rect x="1416.00" y="1908.60" width="12.00" height="4.60" fill="#000"/>
<rect x="1295.00" y="1884.90" width="12.00" height="4.60" fill="#000"/>
<rect x="1416.00" y="1884.90" width="12.00" height="4.60" fill="#000"/>
<rect x="1295.00" y="1861.20" width="12.00" height="4.60" fill="#000"/>
<rect x="1416.00" y="1861.20" width="12.00" height="4.60" fill="#000"/>
<rect x="1295.00" y="1837.50" width="12.00" height="4.60" fill="#000"/>
<rect x="1416.00" y="1837.50" width="12.00" height="4.60" fill="#000"/>
<rect x="1295.00" y="1813.80" width="12.00" height="4.60" fill="#000"/>
<rect x="1416.00" y="1813.80" width="12.00" height="4.60" fill="#000"/>
<rect x="1295.00" y="1790.10" width="12.00" height="4.60" fill="#000"/>
<rect x="1416.00" y="1790.10" width="12.00" height="4.60" fill="#000"/>
<rect x="1295.00" y="1766.40" width="12.00" height="4.60" fill="#000"/>
<rect x="1416.00" y="1766.40" width="12.00" height="4.60" fill="#000"/>
<rect x="1295.00" y="1719.00" width="12.00" height="4.60" fill="#000"/>
<rect x="1416.00" y="1719.00" width="12.00" height="4.60" fill="#000"/>
<rect x="1295.00" y="1695.30" width="12.00" height="4.60" fill="#000"/>
<rect x="1416.00" y="1695.30" width="12.00" height="4.60" fill="#000"/>
<rect x="1295.00" y="1671.60" width="12.00" height="4.60" fill="#000"/>
<rect x="1416.00" y="1671.60" width="12.00" height="4.60" fill="#000"/>
<rect x="1295.00" y="1647.90" width="12.00" height="4.60" fill="#000"/>
<rect x="1416.00" y="1647.90" width="12.00" height="4.60" fill="#000"/>
<rect x="1295.00" y="1624.20" width="12.00" height="4.60" fill="#000"/>
<rect x="1416.00" y="1624.20" width="12.00" height="4.60" fill="#000"/>
<rect x="1295.00" y="1600.50" width="12.00" height="4.60" fill="#000"/>
<rect x="1416.00" y="1600.50" width="12.00" height="4.60" fill="#000"/>
<rect x="1295.00" y="1576.80" width="12.00" height="4.60" fill="#000"/>
<rect x="1416.00" y="1576.80" width="12.00" height="4.60" fill="#000"/>
<rect x="1295.00" y="1553.10" width="12.00" height="4.60" fill="#000"/>
<rect x="1416.00" y="1553.10" width="12.00" height="4.60" fill="#000"/>
<rect x="1295.00" y="1529.40" width="12.00" height="4.60" fill="#000"/>
<rect x="1416.00" y="1529.40" width="12.00" height="4.60" fill="#000"/>
<rect x="1295.00" y="1482.00" width="12.00" height="4.60" fill="#000"/>
<rect x="1416.00" y="1482.00" width="12.00" height="4.60" fill="#000"/>
<rect x="1295.00" y="1458.30" width="12.00" height="4.60" fill="#000"/>
<rect x="1416.00" y="1458.30" width="12.00" height="4.60" fill="#000"/>
<rect x="1295.00" y="1434.60" width="12.00" height="4.60" fill="#000"/>
<rect x="1416.00" y="1434.60" width="12.00" height="4.60" fill="#000"/>
<rect x="1295.00" y="1410.90" width="12.00" height="4.60" fill="#000"/>
<rect x="1416.00" y="1410.90" width="12.00" height="4.60" fill="#000"/>
<rect x="1295.00" y="1387.20" width="12.00" height="4.60" fill="#000"/>
<rect x="1416.00" y="1387.20" width="12.00" height="4.60" fill="#000"/>
<rect x="1295.00" y="1363.50" width="12.00" height="4.60" fill="#000"/>
<rect x="1416.00" y="1363.50" width="12.00" height="4.60" fill="#000"/>
<rect x="1295.00" y="1339.80" width="12.00" height="4.60" fill="#000"/>
<rect x="1416.00" y="1339.80" width="12.00" height="4.60" fill="#000"/>
<rect x="1295.00" y="1316.10" width="12.00" height="4.60" fill="#000"/>
<rect x="1416.00" y="1316.10" width="12.00" height="4.60" fill="#000"/>
<rect x="1295.00" y="1292.40" width="12.00" height="4.60" fill="#000"/>
<rect x="1416.00" y="1292.40" width="12.00" height="4.60" fill="#000"/>
<rect x="1295.00" y="1245.00" width="12.00" height="4.60" fill="#000"/>
<rect x="1416.00" y="1245.00" width="12.00" height="4.60" fill="#000"/>
<rect x="1295.00" y="1221.30" width="12.00" height="4.60" fill="#000"/>
<rect x="1416.00" y="1221.30" width="12.00" height="4.60" fill="#000"/>
<rect x="1295.00" y="1197.60" width="12.00" height="4.60" fill="#000"/>
<rect x="1416.00" y="1197.60" width="12.00" height="4.60" fill="#000"/>
<rect x="1295.00" y="1173.90" width="12.00" height="4.60" fill="#000"/>
<rect x="1416.00" y="1173.90" width="12.00" height="4.60" fill="#000"/>
<rect x="1295.00" y="1150.20" width="12.00" height="4.60" fill="#000"/>
<rect x="1416.00" y="1150.20" width="12.00" height="4.60" fill="#000"/>
<rect x="1295.00" y="1126.50" width="12.00" height="4.60" fill="#000"/>
<rect x="1416.00" y="1126.50" width="12.00" height="4.60" fill="#000"/>
<rect x="1295.00" y="1102.80" width="12.00" height="4.60" fill="#000"/>
<rect x="1416.00" y="1102.80" width="12.00" height="4.60" fill="#000"/>
<rect x="1295.00" y="1079.10" width="12.00" height="4.60" fill="#000"/>
<rect x="1416.00" y="1079.10" width="12.00" height="4.60" fill="#000"/>
<rect x="1295.00" y="1055.40" width="12.00" height="4.60" fill="#000"/>
<rect x="1416.00" y="1055.40" width="12.00" height="4.60" fill="#000"/>
<rect x="1295.00" y="1008.00" width="12.00" height="4.60" fill="#000"/>
<rect x="1416.00" y="1008.00" width="12.00" height="4.60" fill="#000"/>
<rect x="1295.00" y="984.30" width="12.00" height="4.60" fill="#000"/>
<rect x="1416.00" y="984.30" width="12.00" height="4.60" fill="#000"/>
<rect x="1295.00" y="960.60" width="12.00" height="4.60" fill="#000"/>
<rect x="1416.00" y="960.60" width="12.00" height="4.60" fill="#000"/>
<rect x="1295.00" y="936.90" width="12.00" height="4.60" fill="#000"/>
<rect x="1416.00" y="936.90" width="12.00" height="4.60" fill="#000"/>
<rect x="1295.00" y="913.20" width="12.00" height="4.60" fill="#000"/>
<rect x="1416.00" y="913.20" width="12.00" height="4.60" fill="#000"/>
<rect x="1295.00" y="889.50" width="12.00" height="4.60" fill="#000"/>
<rect x="1416.00" y="889.50" width="12.00" height="4.60" fill="#000"/>
<rect x="1295.00" y="865.80" width="12.00" height="4.60" fill="#000"/>
<rect x="1416.00" y="865.80" width="12.00" height="4.60" fill="#000"/>
<rect x="1295.00" y="842.10" width="12.00" height="4.60" fill="#000"/>
<rect x="1416.00" y="842.10" width="12.00" height="4.60" fill="#000"/>
<rect x="1295.00" y="818.40" width="12.00" height="4.60" fill="#000"/>
<rect x="1416.00" y="818.40" width="12.00" height="4.60" fill="#000"/>
<rect x="1295.00" y="771.00" width="12.00" height="4.60" fill="#000"/>
<rect x="1416.00" y="771.00" width="12.00" height="4.60" fill="#000"/>
<rect x="1295.00" y="747.30" width="12.00" height="4.60" fill="#000"/>
<rect x="1416.00" y="747.30" width="12.00" height="4.60" fill="#000"/>
<rect x="1295.00" y="723.60" width="12.00" height="4.60" fill="#000"/>
<rect x="1416.00" y="723.60" width="12.00" height="4.60" fill="#000"/>
<rect x="1295.00" y="699.90" width="12.00" height="4.60" fill="#000"/>
<rect x="1416.00" y="699.90" width="12.00" height="4.60" fill="#000"/>
<rect x="1295.00" y="676.20" width="12.00" height="4.60" fill="#000"/>
<rect x="1416.00" y="676.20" width="12.00" height="4.60" fill="#000"/>
<rect x="1295.00" y="652.50" width="12.00" height="4.60" fill="#000"/>
<rect x="1416.00" y="652.50" width="12.00" height="4.60" fill="#000"/>
<rect x="1295.00" y="628.80" width="12.00" height="4.60" fill="#000"/>
<rect x="1416.00" y="628.80" width="12.00" height="4.60" fill="#000"/>
<rect x="1295.00" y="605.10" width="12.00" height="4.60" fill="#000"/>
<rect x="1416.00" y="605.10" width="12.00" height="4.60" fill="#000"/>
<rect x="1295.00" y="581.40" width="12.00" height="4.60" fill="#000"/>
<rect x="1416.00" y="581.40" width="12.00" height="4.60" fill="#000"/>
<rect x="1295.00" y="534.00" width="12.00" height="4.60" fill="#000"/>
<rect x="1416.00" y="534.00" width="12.00" height="4.60" fill="#000"/>
<rect x="1295.00" y="510.30" width="12.00" height="4.60" fill="#000"/>
<rect x="1416.00" y="510.30" width="12.00" height="4.60" fill="#000"/>
<rect x="1295.00" y="486.60" width="12.00" height="4.60" fill="#000"/>
<rect x="1416.00" y="486.60" width="12.00" height="4.60" fill="#000"/>
<rect x="1295.00" y="462.90" width="12.00" height="4.60" fill="#000"/>
<rect x="1416.00" y="462.90" width="12.00" height="4.60" fill="#000"/>
<rect x="1295.00" y="439.20" width="12.00" height="4.60" fill="#000"/>
<rect x="1416.00" y="439.20" width="12.00" height="4.60" fill="#000"/>
<rect x="1295.00" y="415.50" width="12.00" height="4.60" fill="#000"/>
<rect x="1416.00" y="415.50" width="12.00" height="4.60" fill="#000"/>
<rect x="1295.00" y="391.80" width="12.00" height="4.60" fill="#000"/>
<rect x="1416.00" y="391.80" width="12.00" height="4.60" fill="#000"/>
<rect x="1295.00" y="368.10" width="12.00" height="4.60" fill="#000"/>
<rect x="1416.00" y="368.10" width="12.00" height="4.60" fill="#000"/>
<rect x="1295.00" y="344.40" width="12.00" height="4.60" fill="#000"/>
<rect x="1416.00" y="344.40" width="12.00" height="4.60" fill="#000"/>
<rect x="1303.80" y="1413.20" width="115.5" height="23.70" fill="#00ffba" stroke="#100" stroke-width="1"/>
<rect x="1303.80" y="1436.90" width="115.5" height="23.70" fill="#7d00ff" stroke="#100" stroke-width="1"/>
<rect x="1303.80" y="1602.80" width="115.5" height="23.70" fill="#7d00ff" stroke="#100" stroke-width="1"/>
<rect x="1303.80" y="1626.50" width="115.5" height="23.70" fill="#7d00ff" stroke="#100" stroke-width="1"/>
<rect x="1303.80" y="1650.20" width="115.5" height="23.70" fill="#7d00ff" stroke="#100" stroke-width="1"/>
<rect x="1303.80" y="1673.90" width="115.5" height="23.70" fill="#00ffba" stroke="#100" stroke-width="1"/>
<rect x="1303.80" y="1697.60" width="115.5" height="23.70" fill="#7d00ff" stroke="#100" stroke-width="1"/>
<rect x="1303.80" y="1721.30" width="115.5" height="23.70" fill="#ff1800" stroke="#100" stroke-width="1"/>
<rect x="1303.80" y="1863.50" width="115.5" height="23.70" fill="#7d00ff" stroke="#100" stroke-width="1"/>
<rect x="1303.80" y="1887.20" width="115.5" height="23.70" fill="#ff1800" stroke="#100" stroke-width="1"/>
<rect x="1287.00" y="1980.00" width="149.00" height="4.00" fill="#000"/>
<rect x="1303.80" y="1956.80" width="115.50" height="3.00" fill="#000"/>
<rect x="1303.80" y="1933.10" width="115.50" height="3.00" fill="#000"/>
<rect x="1303.80" y="1909.40" width="115.50" height="3.00" fill="#000"/>
<rect x="1303.80" y="1885.70" width="115.50" height="3.00" fill="#000"/>
<rect x="1303.80" y="1862.00" width="115.50" height="3.00" fill="#000"/>
<rect x="1303.80" y="1838.30" width="115.50" height="3.00" fill="#000"/>
<rect x="1303.80" y="1814.60" width="115.50" height="3.00" fill="#000"/>
<rect x="1303.80" y="1790.90" width="115.50" height="3.00" fill="#000"/>
<rect x="1303.80" y="1767.20" width="115.50" height="3.00" fill="#000"/>
<rect x="1287.00" y="1743.00" width="149.00" height="4.00" fill="#000"/>
<rect x="1303.80" y="1719.80" width="115.50" height="3.00" fill="#000"/>
<rect x="1303.80" y="1696.10" width="115.50" height="3.00" fill="#000"/>
<rect x="1303.80" y="1672.40" width="115.50" height="3.00" fill="#000"/>
<rect x="1303.80" y="1648.70" width="115.50" height="3.00" fill="#000"/>
<rect x="1303.80" y="1625.00" width="115.50" height="3.00" fill="#000"/>
<rect x="1303.80" y="1601.30" width="115.50" height="3.00" fill="#000"/>
<rect x="1303.80" y="1577.60" width="115.50" height="3.00" fill="#000"/>
<rect x="1303.80" y="1553.90" width="115.50" height="3.00" fill="#000"/>
<rect x="1303.80" y="1530.20" width="115.50" height="3.00" fill="#000"/>
<rect x="1287.00" y="1506.00" width="149.00" height="4.00" fill="#000"/>
<rect x="1303.80" y="1482.80" width="115.50" height="3.00" fill="#000"/>
<rect x="1303.80" y="1459.10" width="115.50" height="3.00" fill="#000"/>
<rect x="1303.80" y="1435.40" width="115.50" height="3.00" fill="#000"/>
<rect x="1303.80" y="1411.70" width="115.50" height="3.00" fill="#000"/>
<rect x="1303.80" y="1388.00" width="115.50" height="3.00" fill="#000"/>
<rect x="1303.80" y="1364.30" width="115.50" height="3.00" fill="#000"/>
<rect x="1303.80" y="1340.60" width="115.50" height="3.00" fill="#000"/>
<rect x="1303.80" y="1316.90" width="115.50" height="3.00" fill="#000"/>
<rect x="1303.80" y="1293.20" width="115.50" height="3.00" fill="#000"/>
<rect x="1287.00" y="1269.00" width="149.00" height="4.00" fill="#000"/>
<rect x="1303.80" y="1245.80" width="115.50" height="3.00" fill="#000"/>
<rect x="1303.80" y="1222.10" width="115.50" height="3.00" fill="#000"/>
<rect x="1303.80" y="1198.40" width="115.50" height="3.00" fill="#000"/>
<rect x="1303.80" y="1174.70" width="115.50" height="3.00" fill="#000"/>
<rect x="1303.80" y="1151.00" width="115.50" height="3.00" fill="#000"/>
<rect x="1303.80" y="1127.30" width="115.50" height="3.00" fill="#000"/>
<rect x="1303.80" y="1103.60" width="115.50" height="3.00" fill="#000"/>
<rect x="1303.80" y="1079.90" width="115.50" height="3.00" fill="#000"/>
<rect x="1303.80" y="1056.20" width="115.50" height="3.00" fill="#000"/>
<rect x="1287.00" y="1032.00" width="149.00" height="4.00" fill="#000"/>
<rect x="1303.80" y="1008.80" width="115.50" height="3.00" fill="#000"/>
<rect x="1303.80" y="985.10" width="115.50" height="3.00" fill="#000"/>
<rect x="1303.80" y="961.40" width="115.50" height="3.00" fill="#000"/>
<rect x="1303.80" y="937.70" width="115.50" height="3.00" fill="#000"/>
<rect x="1303.80" y="914.00" width="115.50" height="3.00" fill="#000"/>
<rect x="1303.80" y="890.30" width="115.50" height="3.00" fill="#000"/>
<rect x="1303.80" y="866.60" width="115.50" height="3.00" fill="#000"/>
<rect x="1303.80" y="842.90" width="115.50" height="3.00" fill="#000"/>
<rect x="1303.80" y="819.20" width="115.50" height="3.00" fill="#000"/>
<rect x="1287.00" y="795.00" width="149.00" height="4.00" fill="#000"/>
<rect x="1303.80" y="771.80" width="115.50" height="3.00" fill="#000"/>
<rect x="1303.80" y="748.10" width="115.50" height="3.00" fill="#000"/>
<rect x="1303.80" y="724.40" width="115.50" height="3.00" fill="#000"/>
<rect x="1303.80" y="700.70" width="115.50" height="3.00" fill="#000"/>
<rect x="1303.80" y="677.00" width="115.50" height="3.00" fill="#000"/>
<rect x="1303.80" y="653.30" width="115.50" height="3.00" fill="#000"/>
<rect x="1303.80" y="629.60" width="115.50" height="3.00" fill="#000"/>
<rect x="1303.80" y="605.90" width="115.50" height="3.00" fill="#000"/>
<rect x="1303.80" y="582.20" width="115.50" height="3.00" fill="#000"/>
<rect x="1287.00" y="558.00" width="149.00" height="4.00" fill="#000"/>
<rect x="1303.80" y="534.80" width="115.50" height="3.00" fill="#000"/>
<rect x="1303.80" y="511.10" width="115.50" height="3.00" fill="#000"/>
<rect x="1303.80" y="487.40" width="115.50" height="3.00" fill="#000"/>
<rect x="1303.80" y="463.70" width="115.50" height="3.00" fill="#000"/>
<rect x="1303.80" y="440.00" width="115.50" height="3.00" fill="#000"/>
<rect x="1303.80" y="416.30" width="115.50" height="3.00" fill="#000"/>
<rect x="1303.80" y="392.60" width="115.50" height="3.00" fill="#000"/>
<rect x="1303.80" y="368.90" width="115.50" height="3.00" fill="#000"/>
<rect x="1303.80" y="345.20" width="115.50" height="3.00" fill="#000"/>
<rect x="1287.00" y="321.00" width="149.00" height="4.00" fill="#000"/>
<rect x="1531.00" y="616.00" width="60.00" height="631.50" fill="#000"/>
<rect x="1533.80" y="618.80" width="54.40" height="76.50" fill="#ff1800"/>
<rect x="1533.80" y="697.30" width="54.40" height="76.50" fill="#ff8800"/>
<rect x="1533.80" y="775.80" width="54.40" height="76.50" fill="#fff500"/>
<rect x="1533.80" y="854.30" width="54.40" height="76.50" fill="#24ff00"/>
<rect x="1533.80" y="932.80" width="54.40" height="76.50" fill="#00ffba"/>
<rect x="1533.80" y="1011.30" width="54.40" height="76.50" fill="#00d0ff"/>
<rect x="1533.80" y="1089.80" width="54.40" height="76.50" fill="#000aff"/>
<rect x="1533.80" y="1168.30" width="54.40" height="76.50" fill="#7d00ff"/>
<rect x="1872.00" y="321.00" width="5.00" height="1663.00" fill="#000"/>
<rect x="1986.00" y="321.00" width="5.00" height="1663.00" fill="#000"/>
<rect x="1865.00" y="1956.00" width="12.00" height="4.60" fill="#000"/>
<rect x="1986.00" y="1956.00" width="12.00" height="4.60" fill="#000"/>
<rect x="1865.00" y="1932.30" width="12.00" height="4.60" fill="#000"/>
<rect x="1986.00" y="1932.30" width="12.00" height="4.60" fill="#000"/>
<rect x="1865.00" y="1908.60" width="12.00" height="4.60" fill="#000"/>
<rect x="1986.00" y="1908.60" width="12.00" height="4.60" fill="#000"/>
<rect x="1865.00" y="1884.90" width="12.00" height="4.60" fill="#000"/>
<rect x="1986.00" y="1884.90" width="12.00" height="4.60" fill="#000"/>
<rect x="1865.00" y="1861.20" width="12.00" height="4.60" fill="#000"/>
<rect x="1986.00" y="1861.20" width="12.00" height="4.60" fill="#000"/>
<rect x="1865.00" y="1837.50" width="12.00" height="4.60" fill="#000"/>
<rect x="1986.00" y="1837.50" width="12.00" height="4.60" fill="#000"/>
<rect x="1865.00" y="1813.80" width="12.00" height="4.60" fill="#000"/>
<rect x="1986.00" y="1813.80" width="12.00" height="4.60" fill="#000"/>
<rect x="1865.00" y="1790.10" width="12.00" height="4.60" fill="#000"/>
<rect x="1986.00" y="1790.10" width="12.00" height="4.60" fill="#000"/>
<rect x="1865.00" y="1766.40" width="12.00" height="4.60" fill="#000"/>
<rect x="1986.00" y="1766.40" width="12.00" height="4.60" fill="#000"/>
<rect x="1865.00" y="1719.00" width="12.00" height="4.60" fill="#000"/>
<rect x="1986.00" y="1719.00" width="12.00" height="4.60" fill="#000"/>
<rect x="1865.00" y="1695.30" width="12.00" height="4.60" fill="#000"/>
<rect x="1986.00" y="1695.30" width="12.00" height="4.60" fill="#000"/>
<rect x="1865.00" y="1671.60" width="12.00" height="4.60" fill="#000"/>
<rect x="1986.00" y="1671.60" width="12.00" height="4.60" fill="#000"/>
<rect x="1865.00" y="1647.90" width="12.00" height="4.60" fill="#000"/>
<rect x="1986.00" y="1647.90" width="12.00" height="4.60" fill="#000"/>
<rect x="1865.00" y="1624.20" width="12.00" height="4.60" fill="#000"/>
<rect x="1986.00" y="1624.20" width="12.00" height="4.60" fill="#000"/>
<rect x="1865.00" y="1600.50" width="12.00" height="4.60" fill="#000"/>
<rect x="1986.00" y="1600.50" width="12.00" height="4.60" fill="#000"/>
<rect x="1865.00" y="1576.80" width="12.00" height="4.60" fill="#000"/>
<rect x="1986.00" y="1576.80" width="12.00" height="4.60" fill="#000"/>
<rect x="1865.00" y="1553.10" width="12.00" height="4.60" fill="#000"/>
<rect x="1986.00" y="1553.10" width="12.00" height="4.60" fill="#000"/>
<rect x="1865.00" y="1529.40" width="12.00" height="4.60" fill="#000"/>
<rect x="1986.00" y="1529.40" width="12.00" height="4.60" fill="#000"/>
<rect x="1865.00" y="1482.00" width="12.00" height="4.60" fill="#000"/>
<rect x="1986.00" y="1482.00" width="12.00" height="4.60" fill="#000"/>
<rect x="1865.00" y="1458.30" width="12.00" height="4.60" fill="#000"/>
<rect x="1986.00" y="1458.30" width="12.00" height="4.60" fill="#000"/>
<rect x="1865.00" y="1434.60" width="12.00" height="4.60" fill="#000"/>
<rect x="1986.00" y="1434.60" width="12.00" height="4.60" fill="#000"/>
<rect x="1865.00" y="1410.90" width="12.00" height="4.60" fill="#000"/>
<rect x="1986.00" y="1410.90" width="12.00" height="4.60" fill="#000"/>
<rect x="1865.00" y="1387.20" width="12.00" height="4.60" fill="#000"/>
<rect x="1986.00" y="1387.20" width="12.00" height="4.60" fill="#000"/>
<rect x="1865.00" y="1363.50" width="12.00" height="4.60" fill="#000"/>
<rect x="1986.00" y="1363.50" width="12.00" height="4.60" fill="#000"/>
<rect x="1865.00" y="1339.80" width="12.00" height="4.60" fill="#000"/>
<rect x="1986.00" y="1339.80" width="12.00" height="4.60" fill="#000"/>
<rect x="1865.00" y="1316.10" width="12.00" height="4.60" fill="#000"/>
<rect x="1986.00" y="1316.10" width="12.00" height="4.60" fill="#000"/>
<rect x="1865.00" y="1292.40" width="12.00" height="4.60" fill="#000"/>
<rect x="1986.00" y="1292.40" width="12.00" height="4.60" fill="#000"/>
<rect x="1865.00" y="1245.00" width="12.00" height="4.60" fill="#000"/>
<rect x="1986.00" y="1245.00" width="12.00" height="4.60" fill="#000"/>
<rect x="1865.00" y="1221.30" width="12.00" height="4.60" fill="#000"/>
<rect x="1986.00" y="1221.30" width="12.00" height="4.60" fill="#000"/>
<rect x="1865.00" y="1197.60" width="12.00" height="4.60" fill="#000"/>
<rect x="1986.00" y="1197.60" width="12.00" height="4.60" fill="#000"/>
<rect x="1865.00" y="1173.90" width="12.00" height="4.60" fill="#000"/>
<rect x="1986.00" y="1173.90" width="12.00" height="4.60" fill="#000"/>
<rect x="1865.00" y="1150.20" width="12.00" height="4.60" fill="#000"/>
<rect x="1986.00" y="1150.20" width="12.00" height="4.60" fill="#000"/>
<rect x="1865.00" y="1126.50" width="12.00" height="4.60" fill="#000"/>
<rect x="1986.00" y="1126.50" width="12.00" height="4.60" fill="#000"/>
<rect x="1865.00" y="1102.80" width="12.00" height="4.60" fill="#000"/>
<rect x="1986.00" y="1102.80" width="12.00" height="4.60" fill="#000"/>
<rect x="1865.00" y="1079.10" width="12.00" height="4.60" fill="#000"/>
<rect x="1986.00" y="1079.10" width="12.00" height="4.60" fill="#000"/>
<rect x="1865.00" y="1055.40" width="12.00" height="4.60" fill="#000"/>
<rect x="1986.00" y="1055.40" width="12.00" height="4.60" fill="#000"/>
<rect x="1865.00" y="1008.00" width="12.00" height="4.60" fill="#000"/>
<rect x="1986.00" y="1008.00" width="12.00" height="4.60" fill="#000"/>
<rect x="1865.00" y="984.30" width="12.00" height="4.60" fill="#000"/>
<rect x="1986.00" y="984.30" width="12.00" height="4.60" fill="#000"/>
<rect x="1865.00" y="960.60" width="12.00" height="4.60" fill="#000"/>
<rect x="1986.00" y="960.60" width="12.00" height="4.60" fill="#000"/>
<rect x="1865.00" y="936.90" width="12.00" height="4.60" fill="#000"/>
<rect x="1986.00" y="936.90" width="12.00" height="4.60" fill="#000"/>
<rect x="1865.00" y="913.20" width="12.00" height="4.60" fill="#000"/>
<rect x="1986.00" y="913.20" width="12.00" height="4.60" fill="#000"/>
<rect x="1865.00" y="889.50" width="12.00" height="4.60" fill="#000"/>
<rect x="1986.00" y="889.50" width="12.00" height="4.60" fill="#000"/>
<rect x="1865.00" y="865.80" width="12.00" height="4.60" fill="#000"/>
<rect x="1986.00" y="865.80" width="12.00" height="4.60" fill="#000"/>
<rect x="1865.00" y="842.10" width="12.00" height="4.60" fill="#000"/>
<rect x="1986.00" y="842.10" width="12.00" height="4.60" fill="#000"/>
<rect x="1865.00" y="818.40" width="12.00" height="4.60" fill="#000"/>
<rect x="1986.00" y="818.40" width="12.00" height="4.60" fill="#000"/>
<rect x="1865.00" y="771.00" width="12.00" height="4.60" fill="#000"/>
<rect x="1986.00" y="771.00" width="12.00" height="4.60" fill="#000"/>
<rect x="1865.00" y="747.30" width="12.00" height="4.60" fill="#000"/>
<rect x="1986.00" y="747.30" width="12.00" height="4.60" fill="#000"/>
<rect x="1865.00" y="723.60" width="12.00" height="4.60" fill="#000"/>
<rect x="1986.00" y="723.60" width="12.00" height="4.60" fill="#000"/>
<rect x="1865.00" y="699.90" width="12.00" height="4.60" fill="#000"/>
<rect x="1986.00" y="699.90" width="12.00" height="4.60" fill="#000"/>
<rect x="1865.00" y="676.20" width="12.00" height="4.60" fill="#000"/>
<rect x="1986.00" y="676.20" width="12.00" height="4.60" fill="#000"/>
<rect x="1865.00" y="652.50" width="12.00" height="4.60" fill="#000"/>
<rect x="1986.00" y="652.50" width="12.00" height="4.60" fill="#000"/>
<rect x="1865.00" y="628.80" width="12.00" height="4.60" fill="#000"/>
<rect x="1986.00" y="628.80" width="12.00" height="4.60" fill="#000"/>
<rect x="1865.00" y="605.10" width="12.00" height="4.60" fill="#000"/>
<rect x="1986.00" y="605.10" width="12.00" height="4.60" fill="#000"/>
<rect x="1865.00" y="581.40" width="12.00" height="4.60" fill="#000"/>
<rect x="1986.00" y="581.40" width="12.00" height="4.60" fill="#000"/>
<rect x="1865.00" y="534.00" width="12.00" height="4.60" fill="#000"/>
<rect x="1986.00" y="534.00" width="12.00" height="4.60" fill="#000"/>
<rect x="1865.00" y="510.30" width="12.00" height="4.60" fill="#000"/>
<rect x="1986.00" y="510.30" width="12.00" height="4.60" fill="#000"/>
<rect x="1865.00" y="486.60" width="12.00" height="4.60" fill="#000"/>
<rect x="1986.00" y="486.60" width="12.00" height="4.60" fill="#000"/>
<rect x="1865.00" y="462.90" width="12.00" height="4.60" fill="#000"/>
<rect x="1986.00" y="462.90" width="12.00" height="4.60" fill="#000"/>
<rect x="1865.00" y="439.20" width="12.00" height="4.60" fill="#000"/>
<rect x="1986.00" y="439.20" width="12.00" height="4.60" fill="#000"/>
<rect x="1865.00" y="415.50" width="12.00" height="4.60" fill="#000"/>
<rect x="1986.00" y="415.50" width="12.00" height="4.60" fill="#000"/>
<rect x="1865.00" y="391.80" width="12.00" height="4.60" fill="#000"/>
<rect x="1986.00" y="391.80" width="12.00" height="4.60" fill="#000"/>
<rect x="1865.00" y="368.10" width="12.00" height="4.60" fill="#000"/>
<rect x="1986.00" y="368.10" width="12.00" height="4.60" fill="#000"/>
<rect x="1865.00" y="344.40" width="12.00" height="4.60" fill="#000"/>
<rect x="1986.00" y="344.40" width="12.00" height="4.60" fill="#000"/>
<rect x="1873.80" y="1413.20" width="115.5" height="23.70" fill="#24ff00" stroke="#100" stroke-width="1"/>
<rect x="1873.80" y="1436.90" width="115.5" height="23.70" fill="#fff500" stroke="#100" stroke-width="1"/>
<rect x="1873.80" y="1602.80" width="115.5" height="23.70" fill="#ff1800" stroke="#100" stroke-width="1"/>
<rect x="1873.80" y="1626.50" width="115.5" height="23.70" fill="#ff8800" stroke="#100" stroke-width="1"/>
<rect x="1873.80" y="1650.20" width="115.5" height="23.70" fill="#fff500" stroke="#100" stroke-width="1"/>
<rect x="1873.80" y="1673.90" width="115.5" height="23.70" fill="#00ffba" stroke="#100" stroke-width="1"/>
<rect x="1873.80" y="1697.60" width="115.5" height="23.70" fill="#24ff00" stroke="#100" stroke-width="1"/>
<rect x="1873.80" y="1721.30" width="115.5" height="23.70" fill="#ff8800" stroke="#100" stroke-width="1"/>
<rect x="1873.80" y="1863.50" width="115.5" height="23.70" fill="#fff500" stroke="#100" stroke-width="1"/>
<rect x="1873.80" y="1887.20" width="115.5" height="23.70" fill="#ff8800" stroke="#100" stroke-width="1"/>
<rect x="1857.00" y="1980.00" width="149.00" height="4.00" fill="#000"/>
<rect x="1873.80" y="1956.80" width="115.50" height="3.00" fill="#000"/>
<rect x="1873.80" y="1933.10" width="115.50" height="3.00" fill="#000"/>
<rect x="1873.80" y="1909.40" width="115.50" height="3.00" fill="#000"/>
<rect x="1873.80" y="1885.70" width="115.50" height="3.00" fill="#000"/>
<rect x="1873.80" y="1862.00" width="115.50" height="3.00" fill="#000"/>
<rect x="1873.80" y="1838.30" width="115.50" height="3.00" fill="#000"/>
<rect x="1873.80" y="1814.60" width="115.50" height="3.00" fill="#000"/>
<rect x="1873.80" y="1790.90" width="115.50" height="3.00" fill="#000"/>
<rect x="1873.80" y="1767.20" width="115.50" height="3.00" fill="#000"/>
<rect x="1857.00" y="1743.00" width="149.00" height="4.00" fill="#000"/>
<rect x="1873.80" y="1719.80" width="115.50" height="3.00" fill="#000"/>
<rect x="1873.80" y="1696.10" width="115.50" height="3.00" fill="#000"/>
<rect x="1873.80" y="1672.40" width="115.50" height="3.00" fill="#000"/>
<rect x="1873.80" y="1648.70" width="115.50" height="3.00" fill="#000"/>
<rect x="1873.80" y="1625.00" width="115.50" height="3.00" fill="#000"/>
<rect x="1873.80" y="1601.30" width="115.50" height="3.00" fill="#000"/>
<rect x="1873.80" y="1577.60" width="115.50" height="3.00" fill="#000"/>
<rect x="1873.80" y="1553.90" width="115.50" height="3.00" fill="#000"/>
<rect x="1873.80" y="1530.20" width="115.50" height="3.00" fill="#000"/>
<rect x="1857.00" y="1506.00" width="149.00" height="4.00" fill="#000"/>
<rect x="1873.80" y="1482.80" width="115.50" height="3.00" fill="#000"/>
<rect x="1873.80" y="1459.10" width="115.50" height="3.00" fill="#000"/>
<rect x="1873.80" y="1435.40" width="115.50" height="3.00" fill="#000"/>
<rect x="1873.80" y="1411.70" width="115.50" height="3.00" fill="#000"/>
<rect x="1873.80" y="1388.00" width="115.50" height="3.00" fill="#000"/>
<rect x="1873.80" y="1364.30" width="115.50" height="3.00" fill="#000"/>
<rect x="1873.80" y="1340.60" width="115.50" height="3.00" fill="#000"/>
<rect x="1873.80" y="1316.90" width="115.50" height="3.00" fill="#000"/>
<rect x="1873.80" y="1293.20" width="115.50" height="3.00" fill="#000"/>
<rect x="1857.00" y="1269.00" width="149.00" height="4.00" fill="#000"/>
<rect x="1873.80" y="1245.80" width="115.50" height="3.00" fill="#000"/>
<rect x="1873.80" y="1222.10" width="115.50" height="3.00" fill="#000"/>
<rect x="1873.80" y="1198.40" width="115.50" height="3.00" fill="#000"/>
<rect x="1873.80" y="1174.70" width="115.50" height="3.00" fill="#000"/>
<rect x="1873.80" y="1151.00" width="115.50" height="3.00" fill="#000"/>
<rect x="1873.80" y="1127.30" width="115.50" height="3.00" fill="#000"/>
<rect x="1873.80" y="1103.60" width="115.50" height="3.00" fill="#000"/>
<rect x="1873.80" y="1079.90" width="115.50" height="3.00" fill="#000"/>
<rect x="1873.80" y="1056.20" width="115.50" height="3.00" fill="#000"/>
<rect x="1857.00" y="1032.00" width="149.00" height="4.00" fill="#000"/>
<rect x="1873.80" y="1008.80" width="115.50" height="3.00" fill="#000"/>
<rect x="1873.80" y="985.10" width="115.50" height="3.00" fill="#000"/>
<rect x="1873.80" y="961.40" width="115.50" height="3.00" fill="#000"/>
<rect x="1873.80" y="937.70" width="115.50" height="3.00" fill="#000"/>
<rect x="1873.80" y="914.00" width="115.50" height="3.00" fill="#000"/>
<rect x="1873.80" y="890.30" width="115.50" height="3.00" fill="#000"/>
<rect x="1873.80" y="866.60" width="115.50" height="3.00" fill="#000"/>
<rect x="1873.80" y="842.90" width="115.50" height="3.00" fill="#000"/>
<rect x="1873.80" y="819.20" width="115.50" height="3.00" fill="#000"/>
<rect x="1857.00" y="795.00" width="149.00" height="4.00" fill="#000"/>
<rect x="1873.80" y="771.80" width="115.50" height="3.00" fill="#000"/>
<rect x="1873.80" y="748.10" width="115.50" height="3.00" fill="#000"/>
<rect x="1873.80" y="724.40" width="115.50" height="3.00" fill="#000"/>
<rect x="1873.80" y="700.70" width="115.50" height="3.00" fill="#000"/>
<rect x="1873.80" y="677.00" width="115.50" height="3.00" fill="#000"/>
<rect x="1873.80" y="653.30" width="115.50" height="3.00" fill="#000"/>
<rect x="1873.80" y="629.60" width="115.50" height="3.00" fill="#000"/>
<rect x="1873.80" y="605.90" width="115.50" height="3.00" fill="#000"/>
<rect x="1873.80" y="582.20" width="115.50" height="3.00" fill="#000"/>
<rect x="1857.00" y="558.00" width="149.00" height="4.00" fill="#000"/>
<rect x="1873.80" y="534.80" width="115.50" height="3.00" fill="#000"/>
<rect x="1873.80" y="511.10" width="115.50" height="3.00" fill="#000"/>
<rect x="1873.80" y="487.40" width="115.50" height="3.00" fill="#000"/>
<rect x="1873.80" y="463.70" width="115.50" height="3.00" fill="#000"/>
<rect x="1873.80" y="440.00" width="115.50" height="3.00" fill="#000"/>
<rect x="1873.80" y="416.30" width="115.50" height="3.00" fill="#000"/>
<rect x="1873.80" y="392.60" width="115.50" height="3.00" fill="#000"/>
<rect x="1873.80" y="368.90" width="115.50" height="3.00" fill="#000"/>
<rect x="1873.80" y="345.20" width="115.50" height="3.00" fill="#000"/>
<rect x="1857.00" y="321.00" width="149.00" height="4.00" fill="#000"/>
<rect x="2101.00" y="616.00" width="60.00" height="631.50" fill="#000"/>
<rect x="2103.80" y="618.80" width="54.40" height="76.50" fill="#ff1800"/>
<rect x="2103.80" y="697.30" width="54.40" height="76.50" fill="#ff8800"/>
<rect x="2103.80" y="775.80" width="54.40" height="76.50" fill="#fff500"/>
<rect x="2103.80" y="854.30" width="54.40" height="76.50" fill="#24ff00"/>
<rect x="2103.80" y="932.80" width="54.40" height="76.50" fill="#00ffba"/>
<rect x="2103.80" y="1011.30" width="54.40" height="76.50" fill="#00d0ff"/>
<rect x="2103.80" y="1089.80" width="54.40" height="76.50" fill="#000aff"/>
<rect x="2103.80" y="1168.30" width="54.40" height="76.50" fill="#7d00ff"/>
<text transform="translate(461.18,711.40) scale(1.0000,1)" font-size="40.42">2</text>
<text transform="translate(486.13,711.40) scale(1.0000,1)" font-size="40.42">6</text>
<text transform="translate(461.18,789.90) scale(1.0000,1)" font-size="40.42">2</text>
<text transform="translate(486.28,789.90) scale(1.0000,1)" font-size="40.42">2</text>
<path d="M475.01,867.66V841.78M475.69,842.46L468.12,848.21" stroke="#000" stroke-width="3.37" fill="none" stroke-linejoin="round"/>
<text transform="translate(486.28,868.40) scale(1.0000,1)" font-size="40.42">8</text>
<path d="M475.01,946.16V920.28M475.69,920.96L468.12,926.71" stroke="#000" stroke-width="3.37" fill="none" stroke-linejoin="round"/>
<text transform="translate(486.28,946.90) scale(1.0000,1)" font-size="40.42">5</text>
<path d="M475.01,1024.66V998.78M475.69,999.46L468.12,1005.21" stroke="#000" stroke-width="3.37" fill="none" stroke-linejoin="round"/>
<path d="M500.11,1024.66V998.78M500.79,999.46L493.22,1005.21" stroke="#000" stroke-width="3.37" fill="none" stroke-linejoin="round"/>
<text transform="translate(461.33,1103.90) scale(1.0000,1)" font-size="40.42">7</text>
<text transform="translate(461.28,1182.40) scale(1.0000,1)" font-size="40.42">3</text>
<text transform="translate(103.69,1983.65) scale(1.0000,1)" font-size="49.89">0</text>
<path d="M90.02,1763.74V1731.81M90.85,1732.64L83.87,1739.73" stroke="#000" stroke-width="4.17" fill="none" stroke-linejoin="round"/>
<text transform="translate(103.69,1764.65) scale(1.0000,1)" font-size="49.89">0</text>
<text transform="translate(75.50,1527.65) scale(1.0000,1)" font-size="49.89">2</text>
<text transform="translate(103.69,1527.65) scale(1.0000,1)" font-size="49.89">0</text>
<text transform="translate(75.63,1290.65) scale(1.0000,1)" font-size="49.89">3</text>
<text transform="translate(103.69,1290.65) scale(1.0000,1)" font-size="49.89">0</text>
<text transform="translate(74.98,1053.65) scale(1.0000,1)" font-size="49.89">4</text>
<text transform="translate(103.69,1053.65) scale(1.0000,1)" font-size="49.89">0</text>
<text transform="translate(75.50,816.65) scale(1.0000,1)" font-size="49.89">5</text>
<text transform="translate(103.69,816.65) scale(1.0000,1)" font-size="49.89">0</text>
<text transform="translate(75.32,579.65) scale(1.0000,1)" font-size="49.89">6</text>
<text transform="translate(103.69,579.65) scale(1.0000,1)" font-size="49.89">0</text>
<text transform="translate(76.74,355.65) scale(1.0000,1)" font-size="49.89">7</text>
<text transform="translate(103.69,355.65) scale(1.0000,1)" font-size="49.89">0</text>
<path d="M1045.01,710.66V684.78M1045.69,685.46L1038.12,691.21" stroke="#000" stroke-width="3.37" fill="none" stroke-linejoin="round"/>
<text transform="translate(1056.28,711.40) scale(1.0000,1)" font-size="40.42">5</text>
<text transform="translate(1081.33,711.40) scale(1.0000,1)" font-size="40.42">0</text>
<path d="M1045.01,789.16V763.28M1045.69,763.96L1038.12,769.71" stroke="#000" stroke-width="3.37" fill="none" stroke-linejoin="round"/>
<text transform="translate(1056.23,789.90) scale(1.0000,1)" font-size="40.42">0</text>
<text transform="translate(1081.33,789.90) scale(1.0000,1)" font-size="40.42">0</text>
<text transform="translate(1031.18,868.40) scale(1.0000,1)" font-size="40.42">5</text>
<text transform="translate(1056.23,868.40) scale(1.0000,1)" font-size="40.42">0</text>
<text transform="translate(1031.13,946.90) scale(1.0000,1)" font-size="40.42">0</text>
<text transform="translate(1032.59,1025.40) scale(1.2400,1)" font-size="40.42">−</text>
<text transform="translate(1062.98,1025.40) scale(1.0000,1)" font-size="40.42">5</text>
<text transform="translate(1088.03,1025.40) scale(1.0000,1)" font-size="40.42">0</text>
<text transform="translate(1032.59,1103.90) scale(1.2400,1)" font-size="40.42">−</text>
<path d="M1076.81,1103.16V1077.28M1077.49,1077.96L1069.92,1083.71" stroke="#000" stroke-width="3.37" fill="none" stroke-linejoin="round"/>
<text transform="translate(1088.03,1103.90) scale(1.0000,1)" font-size="40.42">0</text>
<text transform="translate(1113.13,1103.90) scale(1.0000,1)" font-size="40.42">0</text>
<text transform="translate(1032.59,1182.40) scale(1.2400,1)" font-size="40.42">−</text>
<path d="M1076.81,1181.66V1155.78M1077.49,1156.46L1069.92,1162.21" stroke="#000" stroke-width="3.37" fill="none" stroke-linejoin="round"/>
<text transform="translate(1088.08,1182.40) scale(1.0000,1)" font-size="40.42">5</text>
<text transform="translate(1113.13,1182.40) scale(1.0000,1)" font-size="40.42">0</text>
<text transform="translate(673.69,1983.65) scale(1.0000,1)" font-size="49.89">0</text>
<path d="M660.02,1763.74V1731.81M660.85,1732.64L653.87,1739.73" stroke="#000" stroke-width="4.17" fill="none" stroke-linejoin="round"/>
<text transform="translate(673.69,1764.65) scale(1.0000,1)" font-size="49.89">0</text>
<text transform="translate(645.50,1527.65) scale(1.0000,1)" font-size="49.89">2</text>
<text transform="translate(673.69,1527.65) scale(1.0000,1)" font-size="49.89">0</text>
<text transform="translate(645.63,1290.65) scale(1.0000,1)" font-size="49.89">3</text>
<text transform="translate(673.69,1290.65) scale(1.0000,1)" font-size="49.89">0</text>
<text transform="translate(644.98,1053.65) scale(1.0000,1)" font-size="49.89">4</text>
<text transform="translate(673.69,1053.65) scale(1.0000,1)" font-size="49.89">0</text>
<text transform="translate(645.50,816.65) scale(1.0000,1)" font-size="49.89">5</text>
<text transform="translate(673.69,816.65) scale(1.0000,1)" font-size="49.89">0</text>
<text transform="translate(645.32,579.65) scale(1.0000,1)" font-size="49.89">6</text>
<text transform="translate(673.69,579.65) scale(1.0000,1)" font-size="49.89">0</text>
<text transform="translate(646.74,355.65) scale(1.0000,1)" font-size="49.89">7</text>
<text transform="translate(673.69,355.65) scale(1.0000,1)" font-size="49.89">0</text>
<text transform="translate(1601.03,711.40) scale(1.0000,1)" font-size="40.42">6</text>
<text transform="translate(1626.28,711.40) scale(1.0000,1)" font-size="40.42">5</text>
<text transform="translate(1601.18,789.90) scale(1.0000,1)" font-size="40.42">5</text>
<text transform="translate(1626.13,789.90) scale(1.0000,1)" font-size="40.42">6</text>
<text transform="translate(1601.28,868.40) scale(1.0000,1)" font-size="40.42">4</text>
<text transform="translate(1626.13,868.40) scale(1.0000,1)" font-size="40.42">6</text>
<text transform="translate(1601.28,946.90) scale(1.0000,1)" font-size="40.42">3</text>
<text transform="translate(1626.43,946.90) scale(1.0000,1)" font-size="40.42">7</text>
<text transform="translate(1601.18,1025.40) scale(1.0000,1)" font-size="40.42">2</text>
<text transform="translate(1626.28,1025.40) scale(1.0000,1)" font-size="40.42">8</text>
<path d="M1615.01,1103.16V1077.28M1615.69,1077.96L1608.12,1083.71" stroke="#000" stroke-width="3.37" fill="none" stroke-linejoin="round"/>
<text transform="translate(1626.28,1103.90) scale(1.0000,1)" font-size="40.42">8</text>
<text transform="translate(1601.13,1182.40) scale(1.0000,1)" font-size="40.42">9</text>
<text transform="translate(1243.69,1983.65) scale(1.0000,1)" font-size="49.89">0</text>
<path d="M1230.02,1763.74V1731.81M1230.85,1732.64L1223.87,1739.73" stroke="#000" stroke-width="4.17" fill="none" stroke-linejoin="round"/>
<text transform="translate(1243.69,1764.65) scale(1.0000,1)" font-size="49.89">0</text>
<text transform="translate(1215.50,1527.65) scale(1.0000,1)" font-size="49.89">2</text>
<text transform="translate(1243.69,1527.65) scale(1.0000,1)" font-size="49.89">0</text>
<text transform="translate(1215.63,1290.65) scale(1.0000,1)" font-size="49.89">3</text>
<text transform="translate(1243.69,1290.65) scale(1.0000,1)" font-size="49.89">0</text>
<text transform="translate(1214.98,1053.65) scale(1.0000,1)" font-size="49.89">4</text>
<text transform="translate(1243.69,1053.65) scale(1.0000,1)" font-size="49.89">0</text>
<text transform="translate(1215.50,816.65) scale(1.0000,1)" font-size="49.89">5</text>
<text transform="translate(1243.69,816.65) scale(1.0000,1)" font-size="49.89">0</text>
<text transform="translate(1215.32,579.65) scale(1.0000,1)" font-size="49.89">6</text>
<text transform="translate(1243.69,579.65) scale(1.0000,1)" font-size="49.89">0</text>
<text transform="translate(1216.74,355.65) scale(1.0000,1)" font-size="49.89">7</text>
<text transform="translate(1243.69,355.65) scale(1.0000,1)" font-size="49.89">0</text>
<path d="M2185.01,710.66V684.78M2185.69,685.46L2178.12,691.21" stroke="#000" stroke-width="3.37" fill="none" stroke-linejoin="round"/>
<text transform="translate(2196.43,711.40) scale(1.0000,1)" font-size="40.42">7</text>
<path d="M2185.01,789.16V763.28M2185.69,763.96L2178.12,769.71" stroke="#000" stroke-width="3.37" fill="none" stroke-linejoin="round"/>
<text transform="translate(2196.28,789.90) scale(1.0000,1)" font-size="40.42">5</text>
<path d="M2185.01,867.66V841.78M2185.69,842.46L2178.12,848.21" stroke="#000" stroke-width="3.37" fill="none" stroke-linejoin="round"/>
<text transform="translate(2196.28,868.40) scale(1.0000,1)" font-size="40.42">2</text>
<path d="M2185.01,946.16V920.28M2185.69,920.96L2178.12,926.71" stroke="#000" stroke-width="3.37" fill="none" stroke-linejoin="round"/>
<text transform="translate(2196.23,946.90) scale(1.0000,1)" font-size="40.42">0</text>
<text transform="translate(2171.33,1025.40) scale(1.0000,1)" font-size="40.42">7</text>
<text transform="translate(2171.18,1103.90) scale(1.0000,1)" font-size="40.42">5</text>
<text transform="translate(2171.18,1182.40) scale(1.0000,1)" font-size="40.42">2</text>
<text transform="translate(1813.69,1983.65) scale(1.0000,1)" font-size="49.89">0</text>
<path d="M1800.02,1763.74V1731.81M1800.85,1732.64L1793.87,1739.73" stroke="#000" stroke-width="4.17" fill="none" stroke-linejoin="round"/>
<text transform="translate(1813.69,1764.65) scale(1.0000,1)" font-size="49.89">0</text>
<text transform="translate(1785.50,1527.65) scale(1.0000,1)" font-size="49.89">2</text>
<text transform="translate(1813.69,1527.65) scale(1.0000,1)" font-size="49.89">0</text>
<text transform="translate(1785.63,1290.65) scale(1.0000,1)" font-size="49.89">3</text>
<text transform="translate(1813.69,1290.65) scale(1.0000,1)" font-size="49.89">0</text>
<text transform="translate(1784.98,1053.65) scale(1.0000,1)" font-size="49.89">4</text>
<text transform="translate(1813.69,1053.65) scale(1.0000,1)" font-size="49.89">0</text>
<text transform="translate(1785.50,816.65) scale(1.0000,1)" font-size="49.89">5</text>
<text transform="translate(1813.69,816.65) scale(1.0000,1)" font-size="49.89">0</text>
<text transform="translate(1785.32,579.65) scale(1.0000,1)" font-size="49.89">6</text>
<text transform="translate(1813.69,579.65) scale(1.0000,1)" font-size="49.89">0</text>
<text transform="translate(1786.74,355.65) scale(1.0000,1)" font-size="49.89">7</text>
<text transform="translate(1813.69,355.65) scale(1.0000,1)" font-size="49.89">0</text>
<text transform="translate(157.54,51.20) scale(0.9982,1)" font-size="54.69">Sanae</text>
<text transform="translate(368.58,51.20) scale(1.0328,1)" font-size="54.69">2</text>
<text transform="translate(401.45,51.20) scale(1.0722,1)" font-size="54.69">0</text>
<text transform="translate(433.79,51.20) scale(1.1028,1)" font-size="54.69">0</text>
<text transform="translate(469.04,51.20) scale(1.0304,1)" font-size="54.69">7</text>
<line x1="504.40" y1="62.20" x2="533.40" y2="8.10" stroke="#000" stroke-width="4.6" stroke-linecap="butt"/>
<text transform="translate(537.15,51.20) scale(1.0722,1)" font-size="54.69">0</text>
<text transform="translate(570.48,51.20) scale(1.0817,1)" font-size="54.69">3</text>
<line x1="606.90" y1="62.20" x2="634.90" y2="8.10" stroke="#000" stroke-width="4.6" stroke-linecap="butt"/>
<path d="M658.10,51.20V14.92M658.98,15.80L649.98,23.38" stroke="#000" stroke-width="4.40" fill="none" stroke-linejoin="round"/>
<text transform="translate(672.95,51.20) scale(1.0627,1)" font-size="54.69">7</text>
<text transform="translate(759.03,51.20) scale(1.0860,1)" font-size="54.69">22:01:40</text>
<text transform="translate(1016.29,51.20) scale(0.8753,1)" font-size="54.69">UT</text>
<text transform="translate(1132.29,51.20) scale(1.0429,1)" font-size="54.69">Beam:</text>
<path d="M1340.50,51.20V14.92M1341.38,15.80L1329.28,23.38" stroke="#000" stroke-width="4.40" fill="none" stroke-linejoin="round"/>
<text transform="translate(1405.98,51.20) scale(1.0454,1)" font-size="54.69">Freq:</text>
<text transform="translate(1568.23,51.20) scale(1.0662,1)" font-size="54.69">12545</text>
<text transform="translate(1755.41,51.20) scale(0.9729,1)" font-size="54.69">kHz</text>
<text transform="translate(1900.28,51.20) scale(1.0463,1)" font-size="54.69">Nrang:</text>
<text transform="translate(2097.86,51.20) scale(1.0587,1)" font-size="54.69">7</text>
<text transform="translate(2130.73,51.20) scale(1.0377,1)" font-size="54.69">0</text>
<text transform="translate(65.89,135.50) scale(1.0031,1)" font-size="54.55">Nave:</text>
<text transform="translate(234.62,135.50) scale(1.0765,1)" font-size="54.55">78</text>
<text transform="translate(352.45,135.50) scale(0.9357,1)" font-size="54.55">CPID:</text>
<text transform="translate(517.76,135.50) scale(1.0375,1)" font-size="54.55">150</text>
<text transform="translate(640.30,135.50) scale(1.0865,1)" font-size="54.55">(normalscan)</text>
<text transform="translate(1037.79,135.50) scale(1.0239,1)" font-size="54.55">Noise:</text>
<text transform="translate(1221.46,135.50) scale(1.0911,1)" font-size="54.55">4618</text>
<text transform="translate(1405.84,135.50) scale(1.0808,1)" font-size="54.55">Lagfr:</text>
<text transform="translate(1587.46,135.50) scale(1.0366,1)" font-size="54.55">1200</text>
<text transform="translate(1740.62,135.50) scale(1.0386,1)" font-size="54.55">us</text>
<text transform="translate(1854.28,135.50) scale(1.0262,1)" font-size="54.55">Smsep:</text>
<text transform="translate(2070.20,135.50) scale(1.0741,1)" font-size="54.55">300</text>
<text transform="translate(2194.37,135.50) scale(1.0232,1)" font-size="54.55">us</text>
<text transform="translate(979.03,218.80) scale(0.8757,1)" font-size="54.98">FITACF</text>
<text transform="translate(1169.66,218.80) scale(1.0609,1)" font-size="54.98">results</text>
<text transform="translate(134.99,297.00) scale(1.0364,1)" font-size="57.45">Power</text>
<text transform="translate(682.69,297.00) scale(1.0676,1)" font-size="57.45">Velocity</text>
<text transform="translate(1286.71,297.00) scale(0.9946,1)" font-size="57.45">Width</text>
<text transform="translate(1779.94,297.00) scale(0.9939,1)" font-size="57.45">Good</text>
<text transform="translate(1949.87,297.00) scale(1.0392,1)" font-size="57.45">Lags</text>
<text transform="translate(35.20,1285.99) rotate(-90) scale(0.9774,1)" font-size="48.29">Range</text>
<text transform="translate(35.20,1122.82) rotate(-90) scale(0.9600,1)" font-size="48.29">Gate</text>
<text transform="translate(552.00,1043.59) rotate(-90) scale(0.9709,1)" font-size="42.33">Power</text>
<text transform="translate(552.00,907.94) rotate(-90) scale(1.1330,1)" font-size="41.89">[dB]</text>
<text transform="translate(1179.10,1090.51) rotate(-90) scale(1.0255,1)" font-size="41.02">Velocity</text>
<text transform="translate(1180.11,925.80) rotate(-90) scale(55.1899,47.1850)" font-size="1">[</text>
<text transform="translate(1179.10,906.57) rotate(-90) scale(42.5714,37.5814)" font-size="1">m</text>
<text transform="translate(1179.42,849.41) rotate(-90) scale(40.2286,38.1735)" font-size="1">s</text>
<text transform="translate(1160.20,827.30) rotate(-90) scale(25.9952,26.6182)" font-size="1">−1</text>
<text transform="translate(1180.11,791.10) rotate(-90) scale(53.5000,47.1850)" font-size="1">]</text>
<text transform="translate(1692.90,1130.16) rotate(-90) scale(0.9575,1)" font-size="43.20">Spec.</text>
<text transform="translate(1692.90,1005.10) rotate(-90) scale(0.9349,1)" font-size="42.18">Width</text>
<text transform="translate(1692.93,884.80) rotate(-90) scale(55.1899,48.0429)" font-size="1">[</text>
<text transform="translate(1692.00,865.68) rotate(-90) scale(42.7143,37.2093)" font-size="1">m</text>
<text transform="translate(1692.52,808.40) rotate(-90) scale(40.0000,38.1735)" font-size="1">s</text>
<text transform="translate(1673.00,786.29) rotate(-90) scale(25.8993,26.1818)" font-size="1">−1</text>
<text transform="translate(1692.93,750.31) rotate(-90) scale(54.5000,48.0429)" font-size="1">]</text>
<text transform="translate(2263.00,1075.53) rotate(-90) scale(0.9012,1)" font-size="42.91">Good</text>
<text transform="translate(2263.00,959.94) rotate(-90) scale(0.9436,1)" font-size="42.91">Lags</text>
<text transform="translate(2262.85,850.81) rotate(-90) scale(55.2577,47.9357)" font-size="1">[#]</text>
</svg></body></html>
